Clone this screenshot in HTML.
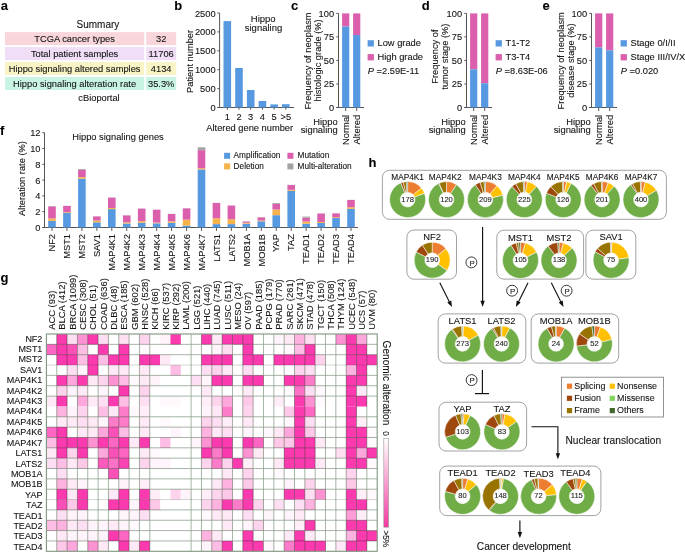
<!DOCTYPE html>
<html><head><meta charset="utf-8"><style>
html,body{margin:0;padding:0;background:#fff;}
svg{display:block;font-family:"Liberation Sans",sans-serif;}
text{stroke:#222;stroke-width:0.1px;}
</style></head><body>
<svg width="685" height="552" viewBox="0 0 685 552">
<rect width="685" height="552" fill="#fff"/>
<text x="0.70" y="9.50" font-size="13" font-weight="bold" fill="#000">a</text>
<text x="174.20" y="9.50" font-size="13" font-weight="bold" fill="#000">b</text>
<text x="290.90" y="9.50" font-size="13" font-weight="bold" fill="#000">c</text>
<text x="421.70" y="9.50" font-size="13" font-weight="bold" fill="#000">d</text>
<text x="542.50" y="9.50" font-size="13" font-weight="bold" fill="#000">e</text>
<text x="0.10" y="134.50" font-size="13" font-weight="bold" fill="#000">f</text>
<text x="0.60" y="281.80" font-size="13" font-weight="bold" fill="#000">g</text>
<text x="368.40" y="167.30" font-size="13" font-weight="bold" fill="#000">h</text>
<text x="97.90" y="28.40" font-size="10.0" text-anchor="middle" fill="#111">Summary</text>
<rect x="5.00" y="32.10" width="139.20" height="13.00" fill="#F8D6DC"/>
<rect x="146.20" y="32.10" width="30.00" height="13.00" fill="#F8D6DC"/>
<text x="74.60" y="41.90" font-size="9.3" text-anchor="middle" fill="#111">TCGA cancer types</text>
<text x="161.20" y="41.90" font-size="9.3" text-anchor="middle" fill="#111">32</text>
<rect x="5.00" y="47.10" width="139.20" height="13.00" fill="#F0DDF6"/>
<rect x="146.20" y="47.10" width="30.00" height="13.00" fill="#F0DDF6"/>
<text x="74.60" y="56.90" font-size="9.3" text-anchor="middle" fill="#111">Total patient samples</text>
<text x="161.20" y="56.90" font-size="9.3" text-anchor="middle" fill="#111">11706</text>
<rect x="5.00" y="62.00" width="139.20" height="13.00" fill="#F8F4C6"/>
<rect x="146.20" y="62.00" width="30.00" height="13.00" fill="#F8F4C6"/>
<text x="74.60" y="71.80" font-size="9.3" text-anchor="middle" fill="#111">Hippo signaling altered samples</text>
<text x="161.20" y="71.80" font-size="9.3" text-anchor="middle" fill="#111">4134</text>
<rect x="5.00" y="77.00" width="139.20" height="13.00" fill="#C9F4E4"/>
<rect x="146.20" y="77.00" width="30.00" height="13.00" fill="#C9F4E4"/>
<text x="74.60" y="86.80" font-size="9.3" text-anchor="middle" fill="#111">Hippo signaling alteration rate</text>
<text x="161.20" y="86.80" font-size="9.3" text-anchor="middle" fill="#111">35.3%</text>
<text x="99.00" y="100.60" font-size="9.3" text-anchor="middle" fill="#111">cBioportal</text>
<line x1="219.60" y1="13.00" x2="219.60" y2="108.00" stroke="#555" stroke-width="1"/>
<line x1="217.10" y1="107.50" x2="294.10" y2="107.50" stroke="#555" stroke-width="1"/>
<line x1="217.40" y1="107.50" x2="219.60" y2="107.50" stroke="#555" stroke-width="1"/>
<text x="215.60" y="111.00" font-size="9.3" text-anchor="end" fill="#111">0</text>
<line x1="217.40" y1="88.60" x2="219.60" y2="88.60" stroke="#555" stroke-width="1"/>
<text x="215.60" y="92.10" font-size="9.3" text-anchor="end" fill="#111">500</text>
<line x1="217.40" y1="69.70" x2="219.60" y2="69.70" stroke="#555" stroke-width="1"/>
<text x="215.60" y="73.20" font-size="9.3" text-anchor="end" fill="#111">1000</text>
<line x1="217.40" y1="50.80" x2="219.60" y2="50.80" stroke="#555" stroke-width="1"/>
<text x="215.60" y="54.30" font-size="9.3" text-anchor="end" fill="#111">1500</text>
<line x1="217.40" y1="31.90" x2="219.60" y2="31.90" stroke="#555" stroke-width="1"/>
<text x="215.60" y="35.40" font-size="9.3" text-anchor="end" fill="#111">2000</text>
<line x1="217.40" y1="13.00" x2="219.60" y2="13.00" stroke="#555" stroke-width="1"/>
<text x="215.60" y="16.50" font-size="9.3" text-anchor="end" fill="#111">2500</text>
<rect x="223.50" y="21.09" width="7.60" height="86.41" fill="#5799E1"/>
<line x1="227.30" y1="107.50" x2="227.30" y2="109.70" stroke="#555" stroke-width="1"/>
<text x="227.30" y="119.60" font-size="9.3" text-anchor="middle" fill="#111">1</text>
<rect x="235.20" y="68.00" width="7.60" height="39.50" fill="#5799E1"/>
<line x1="239.00" y1="107.50" x2="239.00" y2="109.70" stroke="#555" stroke-width="1"/>
<text x="239.00" y="119.60" font-size="9.3" text-anchor="middle" fill="#111">2</text>
<rect x="246.90" y="90.00" width="7.60" height="17.50" fill="#5799E1"/>
<line x1="250.70" y1="107.50" x2="250.70" y2="109.70" stroke="#555" stroke-width="1"/>
<text x="250.70" y="119.60" font-size="9.3" text-anchor="middle" fill="#111">3</text>
<rect x="258.60" y="101.00" width="7.60" height="6.50" fill="#5799E1"/>
<line x1="262.40" y1="107.50" x2="262.40" y2="109.70" stroke="#555" stroke-width="1"/>
<text x="262.40" y="119.60" font-size="9.3" text-anchor="middle" fill="#111">4</text>
<rect x="270.30" y="104.40" width="7.60" height="3.10" fill="#5799E1"/>
<line x1="274.10" y1="107.50" x2="274.10" y2="109.70" stroke="#555" stroke-width="1"/>
<text x="274.10" y="119.60" font-size="9.3" text-anchor="middle" fill="#111">5</text>
<rect x="282.00" y="104.21" width="7.60" height="3.29" fill="#5799E1"/>
<line x1="285.80" y1="107.50" x2="285.80" y2="109.70" stroke="#555" stroke-width="1"/>
<text x="285.80" y="119.60" font-size="9.3" text-anchor="middle" fill="#111">&gt;5</text>
<text x="249.70" y="130.50" font-size="9.3" text-anchor="middle" fill="#111">Altered gene number</text>
<text transform="translate(192.90,61.40) rotate(-90)" font-size="9.3" text-anchor="middle" fill="#111">Patient number</text>
<text x="263.20" y="21.80" font-size="9.5" text-anchor="middle" fill="#111">Hippo</text>
<text x="263.50" y="31.00" font-size="9.5" text-anchor="middle" fill="#111">signaling</text>
<line x1="338.50" y1="13.40" x2="338.50" y2="108.00" stroke="#555" stroke-width="1"/>
<line x1="336.20" y1="107.50" x2="364.00" y2="107.50" stroke="#555" stroke-width="1"/>
<line x1="336.30" y1="107.50" x2="338.50" y2="107.50" stroke="#555" stroke-width="1"/>
<text x="334.10" y="111.00" font-size="9.3" text-anchor="end" fill="#111">0</text>
<line x1="336.30" y1="83.97" x2="338.50" y2="83.97" stroke="#555" stroke-width="1"/>
<text x="334.10" y="87.47" font-size="9.3" text-anchor="end" fill="#111">25</text>
<line x1="336.30" y1="60.45" x2="338.50" y2="60.45" stroke="#555" stroke-width="1"/>
<text x="334.10" y="63.95" font-size="9.3" text-anchor="end" fill="#111">50</text>
<line x1="336.30" y1="36.92" x2="338.50" y2="36.92" stroke="#555" stroke-width="1"/>
<text x="334.10" y="40.42" font-size="9.3" text-anchor="end" fill="#111">75</text>
<line x1="336.30" y1="13.40" x2="338.50" y2="13.40" stroke="#555" stroke-width="1"/>
<text x="334.10" y="16.90" font-size="9.3" text-anchor="end" fill="#111">100</text>
<rect x="342.10" y="13.40" width="7.20" height="13.17" fill="#DB5FAC"/>
<rect x="342.10" y="26.57" width="7.20" height="80.93" fill="#5799E1"/>
<line x1="345.70" y1="107.50" x2="345.70" y2="111.00" stroke="#555" stroke-width="1"/>
<text transform="translate(348.70,114.80) rotate(-90)" font-size="9.4" text-anchor="end" fill="#111">Normal</text>
<rect x="353.10" y="13.40" width="7.20" height="21.64" fill="#DB5FAC"/>
<rect x="353.10" y="35.04" width="7.20" height="72.46" fill="#5799E1"/>
<line x1="356.70" y1="107.50" x2="356.70" y2="111.00" stroke="#555" stroke-width="1"/>
<text transform="translate(359.70,114.80) rotate(-90)" font-size="9.4" text-anchor="end" fill="#111">Altered</text>
<text x="337.70" y="124.50" font-size="9.4" text-anchor="end" fill="#111">Hippo</text>
<text x="337.70" y="133.30" font-size="9.4" text-anchor="end" fill="#111">signaling</text>
<text transform="translate(311.00,61.00) rotate(-90)" font-size="9.3" text-anchor="middle" fill="#111">Frequency of neoplasm</text>
<text transform="translate(320.70,60.40) rotate(-90)" font-size="9.3" text-anchor="middle" fill="#111">histologic grade (%)</text>
<rect x="367.60" y="40.20" width="6.30" height="6.30" fill="#5799E1"/>
<rect x="367.60" y="54.10" width="6.30" height="6.30" fill="#DB5FAC"/>
<text x="377.50" y="46.00" font-size="9.3" fill="#111">Low grade</text>
<text x="377.50" y="59.90" font-size="9.3" fill="#111">High grade</text>
<text x="367.80" y="74.4" font-size="9.3" fill="#111"><tspan font-style="italic">P</tspan> =2.59E-11</text>
<line x1="466.50" y1="13.40" x2="466.50" y2="108.00" stroke="#555" stroke-width="1"/>
<line x1="464.20" y1="107.50" x2="492.00" y2="107.50" stroke="#555" stroke-width="1"/>
<line x1="464.30" y1="107.50" x2="466.50" y2="107.50" stroke="#555" stroke-width="1"/>
<text x="462.10" y="111.00" font-size="9.3" text-anchor="end" fill="#111">0</text>
<line x1="464.30" y1="83.97" x2="466.50" y2="83.97" stroke="#555" stroke-width="1"/>
<text x="462.10" y="87.47" font-size="9.3" text-anchor="end" fill="#111">25</text>
<line x1="464.30" y1="60.45" x2="466.50" y2="60.45" stroke="#555" stroke-width="1"/>
<text x="462.10" y="63.95" font-size="9.3" text-anchor="end" fill="#111">50</text>
<line x1="464.30" y1="36.92" x2="466.50" y2="36.92" stroke="#555" stroke-width="1"/>
<text x="462.10" y="40.42" font-size="9.3" text-anchor="end" fill="#111">75</text>
<line x1="464.30" y1="13.40" x2="466.50" y2="13.40" stroke="#555" stroke-width="1"/>
<text x="462.10" y="16.90" font-size="9.3" text-anchor="end" fill="#111">100</text>
<rect x="470.10" y="13.40" width="7.20" height="55.90" fill="#DB5FAC"/>
<rect x="470.10" y="69.30" width="7.20" height="38.20" fill="#5799E1"/>
<line x1="473.70" y1="107.50" x2="473.70" y2="111.00" stroke="#555" stroke-width="1"/>
<text transform="translate(476.70,114.80) rotate(-90)" font-size="9.4" text-anchor="end" fill="#111">Normal</text>
<rect x="481.10" y="13.40" width="7.20" height="69.82" fill="#DB5FAC"/>
<rect x="481.10" y="83.22" width="7.20" height="24.28" fill="#5799E1"/>
<line x1="484.70" y1="107.50" x2="484.70" y2="111.00" stroke="#555" stroke-width="1"/>
<text transform="translate(487.70,114.80) rotate(-90)" font-size="9.4" text-anchor="end" fill="#111">Altered</text>
<text x="465.70" y="124.50" font-size="9.4" text-anchor="end" fill="#111">Hippo</text>
<text x="465.70" y="133.30" font-size="9.4" text-anchor="end" fill="#111">signaling</text>
<text transform="translate(437.90,56.60) rotate(-90)" font-size="9.3" text-anchor="middle" fill="#111">Frequency of</text>
<text transform="translate(447.60,56.60) rotate(-90)" font-size="9.3" text-anchor="middle" fill="#111">tumor stage (%)</text>
<rect x="495.60" y="40.20" width="6.30" height="6.30" fill="#5799E1"/>
<rect x="495.60" y="54.10" width="6.30" height="6.30" fill="#DB5FAC"/>
<text x="505.50" y="46.00" font-size="9.3" fill="#111">T1-T2</text>
<text x="505.50" y="59.90" font-size="9.3" fill="#111">T3-T4</text>
<text x="495.80" y="74.4" font-size="9.3" fill="#111"><tspan font-style="italic">P</tspan> =8.63E-06</text>
<line x1="591.50" y1="13.40" x2="591.50" y2="108.00" stroke="#555" stroke-width="1"/>
<line x1="589.20" y1="107.50" x2="617.00" y2="107.50" stroke="#555" stroke-width="1"/>
<line x1="589.30" y1="107.50" x2="591.50" y2="107.50" stroke="#555" stroke-width="1"/>
<text x="587.10" y="111.00" font-size="9.3" text-anchor="end" fill="#111">0</text>
<line x1="589.30" y1="83.97" x2="591.50" y2="83.97" stroke="#555" stroke-width="1"/>
<text x="587.10" y="87.47" font-size="9.3" text-anchor="end" fill="#111">25</text>
<line x1="589.30" y1="60.45" x2="591.50" y2="60.45" stroke="#555" stroke-width="1"/>
<text x="587.10" y="63.95" font-size="9.3" text-anchor="end" fill="#111">50</text>
<line x1="589.30" y1="36.92" x2="591.50" y2="36.92" stroke="#555" stroke-width="1"/>
<text x="587.10" y="40.42" font-size="9.3" text-anchor="end" fill="#111">75</text>
<line x1="589.30" y1="13.40" x2="591.50" y2="13.40" stroke="#555" stroke-width="1"/>
<text x="587.10" y="16.90" font-size="9.3" text-anchor="end" fill="#111">100</text>
<rect x="595.10" y="13.40" width="7.20" height="34.06" fill="#DB5FAC"/>
<rect x="595.10" y="47.46" width="7.20" height="60.04" fill="#5799E1"/>
<line x1="598.70" y1="107.50" x2="598.70" y2="111.00" stroke="#555" stroke-width="1"/>
<text transform="translate(601.70,114.80) rotate(-90)" font-size="9.4" text-anchor="end" fill="#111">Normal</text>
<rect x="606.10" y="13.40" width="7.20" height="36.89" fill="#DB5FAC"/>
<rect x="606.10" y="50.29" width="7.20" height="57.21" fill="#5799E1"/>
<line x1="609.70" y1="107.50" x2="609.70" y2="111.00" stroke="#555" stroke-width="1"/>
<text transform="translate(612.70,114.80) rotate(-90)" font-size="9.4" text-anchor="end" fill="#111">Altered</text>
<text x="590.70" y="124.50" font-size="9.4" text-anchor="end" fill="#111">Hippo</text>
<text x="590.70" y="133.30" font-size="9.4" text-anchor="end" fill="#111">signaling</text>
<text transform="translate(563.70,60.80) rotate(-90)" font-size="9.3" text-anchor="middle" fill="#111">Frequency of neoplasm</text>
<text transform="translate(573.50,60.50) rotate(-90)" font-size="9.3" text-anchor="middle" fill="#111">disease stage (%)</text>
<rect x="620.60" y="40.20" width="6.30" height="6.30" fill="#5799E1"/>
<rect x="620.60" y="54.10" width="6.30" height="6.30" fill="#DB5FAC"/>
<text x="630.50" y="46.00" font-size="9.3" fill="#111">Stage 0/I/II</text>
<text x="630.50" y="59.90" font-size="9.3" fill="#111">Stage III/IV/X</text>
<text x="620.80" y="74.4" font-size="9.3" fill="#111"><tspan font-style="italic">P</tspan> =0.020</text>
<line x1="44.50" y1="132.70" x2="44.50" y2="228.00" stroke="#555" stroke-width="1"/>
<line x1="42.50" y1="227.50" x2="358.00" y2="227.50" stroke="#555" stroke-width="1"/>
<line x1="42.30" y1="227.50" x2="44.50" y2="227.50" stroke="#555" stroke-width="1"/>
<text x="40.50" y="231.00" font-size="9.3" text-anchor="end" fill="#111">0</text>
<line x1="42.30" y1="211.70" x2="44.50" y2="211.70" stroke="#555" stroke-width="1"/>
<text x="40.50" y="215.20" font-size="9.3" text-anchor="end" fill="#111">2</text>
<line x1="42.30" y1="195.90" x2="44.50" y2="195.90" stroke="#555" stroke-width="1"/>
<text x="40.50" y="199.40" font-size="9.3" text-anchor="end" fill="#111">4</text>
<line x1="42.30" y1="180.10" x2="44.50" y2="180.10" stroke="#555" stroke-width="1"/>
<text x="40.50" y="183.60" font-size="9.3" text-anchor="end" fill="#111">6</text>
<line x1="42.30" y1="164.30" x2="44.50" y2="164.30" stroke="#555" stroke-width="1"/>
<text x="40.50" y="167.80" font-size="9.3" text-anchor="end" fill="#111">8</text>
<line x1="42.30" y1="148.50" x2="44.50" y2="148.50" stroke="#555" stroke-width="1"/>
<text x="40.50" y="152.00" font-size="9.3" text-anchor="end" fill="#111">10</text>
<line x1="42.30" y1="132.70" x2="44.50" y2="132.70" stroke="#555" stroke-width="1"/>
<text x="40.50" y="136.20" font-size="9.3" text-anchor="end" fill="#111">12</text>
<text transform="translate(25.20,178.60) rotate(-90)" font-size="9.3" text-anchor="middle" fill="#111">Alteration rate (%)</text>
<text x="118.00" y="140.20" font-size="9.3" text-anchor="middle" fill="#111">Hippo signaling genes</text>
<rect x="48.20" y="220.86" width="7.60" height="6.64" fill="#5799E1"/>
<rect x="48.20" y="218.41" width="7.60" height="2.45" fill="#F6B24B"/>
<rect x="48.20" y="206.41" width="7.60" height="12.01" fill="#DB5FAC"/>
<rect x="48.20" y="206.01" width="7.60" height="0.40" fill="#A3A3A3"/>
<line x1="52.00" y1="227.50" x2="52.00" y2="230.90" stroke="#555" stroke-width="1"/>
<text transform="translate(55.20,234.00) rotate(-90)" font-size="9.3" text-anchor="end" fill="#111">NF2</text>
<rect x="63.15" y="212.88" width="7.60" height="14.62" fill="#5799E1"/>
<rect x="63.15" y="212.17" width="7.60" height="0.71" fill="#F6B24B"/>
<rect x="63.15" y="205.93" width="7.60" height="6.24" fill="#DB5FAC"/>
<rect x="63.15" y="205.78" width="7.60" height="0.16" fill="#A3A3A3"/>
<line x1="66.95" y1="227.50" x2="66.95" y2="230.90" stroke="#555" stroke-width="1"/>
<text transform="translate(70.15,234.00) rotate(-90)" font-size="9.3" text-anchor="end" fill="#111">MST1</text>
<rect x="78.10" y="178.68" width="7.60" height="48.82" fill="#5799E1"/>
<rect x="78.10" y="177.10" width="7.60" height="1.58" fill="#F6B24B"/>
<rect x="78.10" y="169.83" width="7.60" height="7.27" fill="#DB5FAC"/>
<rect x="78.10" y="169.04" width="7.60" height="0.79" fill="#A3A3A3"/>
<line x1="81.90" y1="227.50" x2="81.90" y2="230.90" stroke="#555" stroke-width="1"/>
<text transform="translate(85.10,234.00) rotate(-90)" font-size="9.3" text-anchor="end" fill="#111">MST2</text>
<rect x="93.05" y="222.29" width="7.60" height="5.21" fill="#5799E1"/>
<rect x="93.05" y="220.47" width="7.60" height="1.82" fill="#F6B24B"/>
<rect x="93.05" y="216.44" width="7.60" height="4.03" fill="#DB5FAC"/>
<rect x="93.05" y="216.28" width="7.60" height="0.16" fill="#A3A3A3"/>
<line x1="96.85" y1="227.50" x2="96.85" y2="230.90" stroke="#555" stroke-width="1"/>
<text transform="translate(100.05,234.00) rotate(-90)" font-size="9.3" text-anchor="end" fill="#111">SAV1</text>
<rect x="108.00" y="209.09" width="7.60" height="18.41" fill="#5799E1"/>
<rect x="108.00" y="207.99" width="7.60" height="1.11" fill="#F6B24B"/>
<rect x="108.00" y="197.64" width="7.60" height="10.35" fill="#DB5FAC"/>
<rect x="108.00" y="197.48" width="7.60" height="0.16" fill="#A3A3A3"/>
<line x1="111.80" y1="227.50" x2="111.80" y2="230.90" stroke="#555" stroke-width="1"/>
<text transform="translate(115.00,234.00) rotate(-90)" font-size="9.3" text-anchor="end" fill="#111">MAP4K1</text>
<rect x="122.95" y="223.47" width="7.60" height="4.03" fill="#5799E1"/>
<rect x="122.95" y="222.29" width="7.60" height="1.19" fill="#F6B24B"/>
<rect x="122.95" y="215.41" width="7.60" height="6.87" fill="#DB5FAC"/>
<rect x="122.95" y="215.25" width="7.60" height="0.16" fill="#A3A3A3"/>
<line x1="126.75" y1="227.50" x2="126.75" y2="230.90" stroke="#555" stroke-width="1"/>
<text transform="translate(129.95,234.00) rotate(-90)" font-size="9.3" text-anchor="end" fill="#111">MAP4K2</text>
<rect x="137.90" y="222.76" width="7.60" height="4.74" fill="#5799E1"/>
<rect x="137.90" y="221.18" width="7.60" height="1.58" fill="#F6B24B"/>
<rect x="137.90" y="208.62" width="7.60" height="12.56" fill="#DB5FAC"/>
<rect x="137.90" y="208.46" width="7.60" height="0.16" fill="#A3A3A3"/>
<line x1="141.70" y1="227.50" x2="141.70" y2="230.90" stroke="#555" stroke-width="1"/>
<text transform="translate(144.90,234.00) rotate(-90)" font-size="9.3" text-anchor="end" fill="#111">MAP4K3</text>
<rect x="152.85" y="223.31" width="7.60" height="4.19" fill="#5799E1"/>
<rect x="152.85" y="222.60" width="7.60" height="0.71" fill="#F6B24B"/>
<rect x="152.85" y="209.72" width="7.60" height="12.88" fill="#DB5FAC"/>
<rect x="152.85" y="209.57" width="7.60" height="0.16" fill="#A3A3A3"/>
<line x1="156.65" y1="227.50" x2="156.65" y2="230.90" stroke="#555" stroke-width="1"/>
<text transform="translate(159.85,234.00) rotate(-90)" font-size="9.3" text-anchor="end" fill="#111">MAP4K4</text>
<rect x="167.80" y="222.76" width="7.60" height="4.74" fill="#5799E1"/>
<rect x="167.80" y="221.34" width="7.60" height="1.42" fill="#F6B24B"/>
<rect x="167.80" y="213.99" width="7.60" height="7.35" fill="#DB5FAC"/>
<rect x="167.80" y="213.83" width="7.60" height="0.16" fill="#A3A3A3"/>
<line x1="171.60" y1="227.50" x2="171.60" y2="230.90" stroke="#555" stroke-width="1"/>
<text transform="translate(174.80,234.00) rotate(-90)" font-size="9.3" text-anchor="end" fill="#111">MAP4K5</text>
<rect x="182.75" y="225.60" width="7.60" height="1.90" fill="#5799E1"/>
<rect x="182.75" y="219.60" width="7.60" height="6.00" fill="#F6B24B"/>
<rect x="182.75" y="208.38" width="7.60" height="11.22" fill="#DB5FAC"/>
<rect x="182.75" y="208.22" width="7.60" height="0.16" fill="#A3A3A3"/>
<line x1="186.55" y1="227.50" x2="186.55" y2="230.90" stroke="#555" stroke-width="1"/>
<text transform="translate(189.75,234.00) rotate(-90)" font-size="9.3" text-anchor="end" fill="#111">MAP4K6</text>
<rect x="197.70" y="169.44" width="7.60" height="58.07" fill="#5799E1"/>
<rect x="197.70" y="168.25" width="7.60" height="1.19" fill="#F6B24B"/>
<rect x="197.70" y="150.16" width="7.60" height="18.09" fill="#DB5FAC"/>
<rect x="197.70" y="147.31" width="7.60" height="2.84" fill="#A3A3A3"/>
<line x1="201.50" y1="227.50" x2="201.50" y2="230.90" stroke="#555" stroke-width="1"/>
<text transform="translate(204.70,234.00) rotate(-90)" font-size="9.3" text-anchor="end" fill="#111">MAP4K7</text>
<rect x="212.65" y="224.10" width="7.60" height="3.40" fill="#5799E1"/>
<rect x="212.65" y="218.26" width="7.60" height="5.85" fill="#F6B24B"/>
<rect x="212.65" y="203.01" width="7.60" height="15.25" fill="#DB5FAC"/>
<rect x="212.65" y="202.85" width="7.60" height="0.16" fill="#A3A3A3"/>
<line x1="216.45" y1="227.50" x2="216.45" y2="230.90" stroke="#555" stroke-width="1"/>
<text transform="translate(219.65,234.00) rotate(-90)" font-size="9.3" text-anchor="end" fill="#111">LATS1</text>
<rect x="227.60" y="224.10" width="7.60" height="3.40" fill="#5799E1"/>
<rect x="227.60" y="219.20" width="7.60" height="4.90" fill="#F6B24B"/>
<rect x="227.60" y="205.62" width="7.60" height="13.59" fill="#DB5FAC"/>
<rect x="227.60" y="205.46" width="7.60" height="0.16" fill="#A3A3A3"/>
<line x1="231.40" y1="227.50" x2="231.40" y2="230.90" stroke="#555" stroke-width="1"/>
<text transform="translate(234.60,234.00) rotate(-90)" font-size="9.3" text-anchor="end" fill="#111">LATS2</text>
<rect x="242.55" y="223.71" width="7.60" height="3.79" fill="#5799E1"/>
<rect x="242.55" y="222.76" width="7.60" height="0.95" fill="#F6B24B"/>
<rect x="242.55" y="221.50" width="7.60" height="1.26" fill="#DB5FAC"/>
<rect x="242.55" y="221.34" width="7.60" height="0.16" fill="#A3A3A3"/>
<line x1="246.35" y1="227.50" x2="246.35" y2="230.90" stroke="#555" stroke-width="1"/>
<text transform="translate(249.55,234.00) rotate(-90)" font-size="9.3" text-anchor="end" fill="#111">MOB1A</text>
<rect x="257.50" y="221.26" width="7.60" height="6.24" fill="#5799E1"/>
<rect x="257.50" y="220.39" width="7.60" height="0.87" fill="#F6B24B"/>
<rect x="257.50" y="217.39" width="7.60" height="3.00" fill="#DB5FAC"/>
<rect x="257.50" y="217.23" width="7.60" height="0.16" fill="#A3A3A3"/>
<line x1="261.30" y1="227.50" x2="261.30" y2="230.90" stroke="#555" stroke-width="1"/>
<text transform="translate(264.50,234.00) rotate(-90)" font-size="9.3" text-anchor="end" fill="#111">MOB1B</text>
<rect x="272.45" y="215.18" width="7.60" height="12.32" fill="#5799E1"/>
<rect x="272.45" y="209.49" width="7.60" height="5.69" fill="#F6B24B"/>
<rect x="272.45" y="203.88" width="7.60" height="5.61" fill="#DB5FAC"/>
<rect x="272.45" y="203.01" width="7.60" height="0.87" fill="#A3A3A3"/>
<line x1="276.25" y1="227.50" x2="276.25" y2="230.90" stroke="#555" stroke-width="1"/>
<text transform="translate(279.45,234.00) rotate(-90)" font-size="9.3" text-anchor="end" fill="#111">YAP</text>
<rect x="287.40" y="190.84" width="7.60" height="36.66" fill="#5799E1"/>
<rect x="287.40" y="189.82" width="7.60" height="1.03" fill="#F6B24B"/>
<rect x="287.40" y="185.08" width="7.60" height="4.74" fill="#DB5FAC"/>
<rect x="287.40" y="184.84" width="7.60" height="0.24" fill="#A3A3A3"/>
<line x1="291.20" y1="227.50" x2="291.20" y2="230.90" stroke="#555" stroke-width="1"/>
<text transform="translate(294.40,234.00) rotate(-90)" font-size="9.3" text-anchor="end" fill="#111">TAZ</text>
<rect x="302.35" y="223.71" width="7.60" height="3.79" fill="#5799E1"/>
<rect x="302.35" y="221.50" width="7.60" height="2.21" fill="#F6B24B"/>
<rect x="302.35" y="217.78" width="7.60" height="3.71" fill="#DB5FAC"/>
<rect x="302.35" y="216.60" width="7.60" height="1.18" fill="#A3A3A3"/>
<line x1="306.15" y1="227.50" x2="306.15" y2="230.90" stroke="#555" stroke-width="1"/>
<text transform="translate(309.35,234.00) rotate(-90)" font-size="9.3" text-anchor="end" fill="#111">TEAD1</text>
<rect x="317.30" y="223.00" width="7.60" height="4.50" fill="#5799E1"/>
<rect x="317.30" y="221.97" width="7.60" height="1.03" fill="#F6B24B"/>
<rect x="317.30" y="213.52" width="7.60" height="8.45" fill="#DB5FAC"/>
<rect x="317.30" y="213.36" width="7.60" height="0.16" fill="#A3A3A3"/>
<line x1="321.10" y1="227.50" x2="321.10" y2="230.90" stroke="#555" stroke-width="1"/>
<text transform="translate(324.30,234.00) rotate(-90)" font-size="9.3" text-anchor="end" fill="#111">TEAD2</text>
<rect x="332.25" y="218.02" width="7.60" height="9.48" fill="#5799E1"/>
<rect x="332.25" y="217.23" width="7.60" height="0.79" fill="#F6B24B"/>
<rect x="332.25" y="213.36" width="7.60" height="3.87" fill="#DB5FAC"/>
<rect x="332.25" y="213.20" width="7.60" height="0.16" fill="#A3A3A3"/>
<line x1="336.05" y1="227.50" x2="336.05" y2="230.90" stroke="#555" stroke-width="1"/>
<text transform="translate(339.25,234.00) rotate(-90)" font-size="9.3" text-anchor="end" fill="#111">TEAD3</text>
<rect x="347.20" y="208.86" width="7.60" height="18.64" fill="#5799E1"/>
<rect x="347.20" y="207.20" width="7.60" height="1.66" fill="#F6B24B"/>
<rect x="347.20" y="200.01" width="7.60" height="7.19" fill="#DB5FAC"/>
<rect x="347.20" y="199.85" width="7.60" height="0.16" fill="#A3A3A3"/>
<line x1="351.00" y1="227.50" x2="351.00" y2="230.90" stroke="#555" stroke-width="1"/>
<text transform="translate(354.20,234.00) rotate(-90)" font-size="9.3" text-anchor="end" fill="#111">TEAD4</text>
<rect x="224.10" y="152.80" width="6.00" height="6.00" fill="#5799E1"/>
<rect x="224.10" y="163.40" width="6.00" height="6.00" fill="#F6B24B"/>
<rect x="287.40" y="152.80" width="6.00" height="6.00" fill="#DB5FAC"/>
<rect x="287.40" y="163.40" width="6.00" height="6.00" fill="#A3A3A3"/>
<text x="233.60" y="158.40" font-size="8.25" fill="#111">Amplification</text>
<text x="233.60" y="169.10" font-size="8.25" fill="#111">Deletion</text>
<text x="297.60" y="158.40" font-size="8.25" fill="#111">Mutation</text>
<text x="297.60" y="169.10" font-size="8.25" fill="#111">Multi-alteration</text>
<rect x="56.74" y="334.00" width="10.39" height="10.40" fill="#FC3AB0"/>
<rect x="67.08" y="334.00" width="10.39" height="10.40" fill="#FEDEF2"/>
<rect x="77.41" y="334.00" width="10.39" height="10.40" fill="#FD92D3"/>
<rect x="87.75" y="334.00" width="10.39" height="10.40" fill="#FC3AB0"/>
<rect x="98.09" y="334.00" width="10.39" height="10.40" fill="#FEDEF2"/>
<rect x="118.76" y="334.00" width="10.39" height="10.40" fill="#FEDEF2"/>
<rect x="139.44" y="334.00" width="10.39" height="10.40" fill="#FED3ED"/>
<rect x="160.11" y="334.00" width="10.39" height="10.40" fill="#FFF4FB"/>
<rect x="170.45" y="334.00" width="10.39" height="10.40" fill="#FC3AB0"/>
<rect x="201.46" y="334.00" width="10.39" height="10.40" fill="#FC3AB0"/>
<rect x="211.80" y="334.00" width="10.39" height="10.40" fill="#FFE9F6"/>
<rect x="222.14" y="334.00" width="10.39" height="10.40" fill="#FC3AB0"/>
<rect x="232.48" y="334.00" width="10.39" height="10.40" fill="#FC3AB0"/>
<rect x="242.81" y="334.00" width="10.39" height="10.40" fill="#FC3AB0"/>
<rect x="273.82" y="334.00" width="10.39" height="10.40" fill="#FFF4FB"/>
<rect x="284.16" y="334.00" width="10.39" height="10.40" fill="#FFE9F6"/>
<rect x="294.50" y="334.00" width="10.39" height="10.40" fill="#FEB2E0"/>
<rect x="304.84" y="334.00" width="10.39" height="10.40" fill="#FEDEF2"/>
<rect x="335.85" y="334.00" width="10.39" height="10.40" fill="#FD92D3"/>
<rect x="346.19" y="334.00" width="10.39" height="10.40" fill="#FC3AB0"/>
<rect x="356.52" y="334.00" width="10.39" height="10.40" fill="#FEA7DC"/>
<rect x="46.40" y="344.35" width="10.39" height="10.40" fill="#FD66C2"/>
<rect x="56.74" y="344.35" width="10.39" height="10.40" fill="#FC3AB0"/>
<rect x="67.08" y="344.35" width="10.39" height="10.40" fill="#FC50B9"/>
<rect x="77.41" y="344.35" width="10.39" height="10.40" fill="#FEBDE5"/>
<rect x="98.09" y="344.35" width="10.39" height="10.40" fill="#FC3AB0"/>
<rect x="118.76" y="344.35" width="10.39" height="10.40" fill="#FC3AB0"/>
<rect x="139.44" y="344.35" width="10.39" height="10.40" fill="#FFF8FC"/>
<rect x="211.80" y="344.35" width="10.39" height="10.40" fill="#FFF4FB"/>
<rect x="222.14" y="344.35" width="10.39" height="10.40" fill="#FEDEF2"/>
<rect x="242.81" y="344.35" width="10.39" height="10.40" fill="#FC3AB0"/>
<rect x="284.16" y="344.35" width="10.39" height="10.40" fill="#FFF8FC"/>
<rect x="294.50" y="344.35" width="10.39" height="10.40" fill="#FEBDE5"/>
<rect x="304.84" y="344.35" width="10.39" height="10.40" fill="#FC3AB0"/>
<rect x="346.19" y="344.35" width="10.39" height="10.40" fill="#FC3AB0"/>
<rect x="356.52" y="344.35" width="10.39" height="10.40" fill="#FC3AB0"/>
<rect x="56.74" y="354.70" width="10.39" height="10.40" fill="#FC3AB0"/>
<rect x="67.08" y="354.70" width="10.39" height="10.40" fill="#FC3AB0"/>
<rect x="77.41" y="354.70" width="10.39" height="10.40" fill="#FEBDE5"/>
<rect x="87.75" y="354.70" width="10.39" height="10.40" fill="#FC3AB0"/>
<rect x="98.09" y="354.70" width="10.39" height="10.40" fill="#FEBDE5"/>
<rect x="108.43" y="354.70" width="10.39" height="10.40" fill="#FC3AB0"/>
<rect x="118.76" y="354.70" width="10.39" height="10.40" fill="#FC3AB0"/>
<rect x="139.44" y="354.70" width="10.39" height="10.40" fill="#FC3AB0"/>
<rect x="149.78" y="354.70" width="10.39" height="10.40" fill="#FC3AB0"/>
<rect x="160.11" y="354.70" width="10.39" height="10.40" fill="#FFE9F6"/>
<rect x="201.46" y="354.70" width="10.39" height="10.40" fill="#FC3AB0"/>
<rect x="211.80" y="354.70" width="10.39" height="10.40" fill="#FC3AB0"/>
<rect x="222.14" y="354.70" width="10.39" height="10.40" fill="#FC3AB0"/>
<rect x="242.81" y="354.70" width="10.39" height="10.40" fill="#FC3AB0"/>
<rect x="253.15" y="354.70" width="10.39" height="10.40" fill="#FC3AB0"/>
<rect x="273.82" y="354.70" width="10.39" height="10.40" fill="#FC3AB0"/>
<rect x="284.16" y="354.70" width="10.39" height="10.40" fill="#FC3AB0"/>
<rect x="294.50" y="354.70" width="10.39" height="10.40" fill="#FC3AB0"/>
<rect x="304.84" y="354.70" width="10.39" height="10.40" fill="#FC3AB0"/>
<rect x="315.18" y="354.70" width="10.39" height="10.40" fill="#FED3ED"/>
<rect x="346.19" y="354.70" width="10.39" height="10.40" fill="#FC3AB0"/>
<rect x="356.52" y="354.70" width="10.39" height="10.40" fill="#FC3AB0"/>
<rect x="366.86" y="354.70" width="10.39" height="10.40" fill="#FC3AB0"/>
<rect x="67.08" y="365.04" width="10.39" height="10.40" fill="#FEDEF2"/>
<rect x="77.41" y="365.04" width="10.39" height="10.40" fill="#FFF4FB"/>
<rect x="87.75" y="365.04" width="10.39" height="10.40" fill="#FC3AB0"/>
<rect x="108.43" y="365.04" width="10.39" height="10.40" fill="#FFE9F6"/>
<rect x="118.76" y="365.04" width="10.39" height="10.40" fill="#FFE9F6"/>
<rect x="139.44" y="365.04" width="10.39" height="10.40" fill="#FFE9F6"/>
<rect x="170.45" y="365.04" width="10.39" height="10.40" fill="#FEBDE5"/>
<rect x="201.46" y="365.04" width="10.39" height="10.40" fill="#FEDEF2"/>
<rect x="211.80" y="365.04" width="10.39" height="10.40" fill="#FED3ED"/>
<rect x="222.14" y="365.04" width="10.39" height="10.40" fill="#FFE9F6"/>
<rect x="242.81" y="365.04" width="10.39" height="10.40" fill="#FEDEF2"/>
<rect x="294.50" y="365.04" width="10.39" height="10.40" fill="#FED3ED"/>
<rect x="304.84" y="365.04" width="10.39" height="10.40" fill="#FEDEF2"/>
<rect x="346.19" y="365.04" width="10.39" height="10.40" fill="#FEB2E0"/>
<rect x="356.52" y="365.04" width="10.39" height="10.40" fill="#FC3AB0"/>
<rect x="56.74" y="375.39" width="10.39" height="10.40" fill="#FC3AB0"/>
<rect x="67.08" y="375.39" width="10.39" height="10.40" fill="#FEA7DC"/>
<rect x="77.41" y="375.39" width="10.39" height="10.40" fill="#FC3AB0"/>
<rect x="87.75" y="375.39" width="10.39" height="10.40" fill="#FFE9F6"/>
<rect x="98.09" y="375.39" width="10.39" height="10.40" fill="#FED3ED"/>
<rect x="108.43" y="375.39" width="10.39" height="10.40" fill="#FD92D3"/>
<rect x="118.76" y="375.39" width="10.39" height="10.40" fill="#FEBDE5"/>
<rect x="129.10" y="375.39" width="10.39" height="10.40" fill="#FFF8FC"/>
<rect x="139.44" y="375.39" width="10.39" height="10.40" fill="#FFE9F6"/>
<rect x="149.78" y="375.39" width="10.39" height="10.40" fill="#FFF4FB"/>
<rect x="191.12" y="375.39" width="10.39" height="10.40" fill="#FEDEF2"/>
<rect x="201.46" y="375.39" width="10.39" height="10.40" fill="#FFF4FB"/>
<rect x="211.80" y="375.39" width="10.39" height="10.40" fill="#FC3AB0"/>
<rect x="222.14" y="375.39" width="10.39" height="10.40" fill="#FC3AB0"/>
<rect x="242.81" y="375.39" width="10.39" height="10.40" fill="#FC3AB0"/>
<rect x="253.15" y="375.39" width="10.39" height="10.40" fill="#FC3AB0"/>
<rect x="284.16" y="375.39" width="10.39" height="10.40" fill="#FC3AB0"/>
<rect x="294.50" y="375.39" width="10.39" height="10.40" fill="#FC3AB0"/>
<rect x="304.84" y="375.39" width="10.39" height="10.40" fill="#FD7CCA"/>
<rect x="346.19" y="375.39" width="10.39" height="10.40" fill="#FC3AB0"/>
<rect x="356.52" y="375.39" width="10.39" height="10.40" fill="#FC3AB0"/>
<rect x="56.74" y="385.74" width="10.39" height="10.40" fill="#FED3ED"/>
<rect x="67.08" y="385.74" width="10.39" height="10.40" fill="#FFF4FB"/>
<rect x="77.41" y="385.74" width="10.39" height="10.40" fill="#FFE9F6"/>
<rect x="98.09" y="385.74" width="10.39" height="10.40" fill="#FFF4FB"/>
<rect x="118.76" y="385.74" width="10.39" height="10.40" fill="#FC3AB0"/>
<rect x="139.44" y="385.74" width="10.39" height="10.40" fill="#FED3ED"/>
<rect x="201.46" y="385.74" width="10.39" height="10.40" fill="#FFE9F6"/>
<rect x="242.81" y="385.74" width="10.39" height="10.40" fill="#FFE9F6"/>
<rect x="284.16" y="385.74" width="10.39" height="10.40" fill="#FFFBFD"/>
<rect x="294.50" y="385.74" width="10.39" height="10.40" fill="#FD71C6"/>
<rect x="304.84" y="385.74" width="10.39" height="10.40" fill="#FEDEF2"/>
<rect x="315.18" y="385.74" width="10.39" height="10.40" fill="#FFF8FC"/>
<rect x="346.19" y="385.74" width="10.39" height="10.40" fill="#FC3AB0"/>
<rect x="356.52" y="385.74" width="10.39" height="10.40" fill="#FFE9F6"/>
<rect x="46.40" y="396.09" width="10.39" height="10.40" fill="#FFE9F6"/>
<rect x="56.74" y="396.09" width="10.39" height="10.40" fill="#FC3AB0"/>
<rect x="77.41" y="396.09" width="10.39" height="10.40" fill="#FEA7DC"/>
<rect x="87.75" y="396.09" width="10.39" height="10.40" fill="#FFE9F6"/>
<rect x="98.09" y="396.09" width="10.39" height="10.40" fill="#FEDEF2"/>
<rect x="108.43" y="396.09" width="10.39" height="10.40" fill="#FC3AB0"/>
<rect x="118.76" y="396.09" width="10.39" height="10.40" fill="#FEBDE5"/>
<rect x="139.44" y="396.09" width="10.39" height="10.40" fill="#FEDEF2"/>
<rect x="160.11" y="396.09" width="10.39" height="10.40" fill="#FFF8FC"/>
<rect x="170.45" y="396.09" width="10.39" height="10.40" fill="#FFF8FC"/>
<rect x="201.46" y="396.09" width="10.39" height="10.40" fill="#FFEDF8"/>
<rect x="211.80" y="396.09" width="10.39" height="10.40" fill="#FED3ED"/>
<rect x="222.14" y="396.09" width="10.39" height="10.40" fill="#FEA7DC"/>
<rect x="242.81" y="396.09" width="10.39" height="10.40" fill="#FEC8E9"/>
<rect x="273.82" y="396.09" width="10.39" height="10.40" fill="#FFEDF8"/>
<rect x="294.50" y="396.09" width="10.39" height="10.40" fill="#FC3AB0"/>
<rect x="304.84" y="396.09" width="10.39" height="10.40" fill="#FD92D3"/>
<rect x="315.18" y="396.09" width="10.39" height="10.40" fill="#FFF8FC"/>
<rect x="346.19" y="396.09" width="10.39" height="10.40" fill="#FC3AB0"/>
<rect x="356.52" y="396.09" width="10.39" height="10.40" fill="#FC3AB0"/>
<rect x="56.74" y="406.43" width="10.39" height="10.40" fill="#FEB2E0"/>
<rect x="67.08" y="406.43" width="10.39" height="10.40" fill="#FFF4FB"/>
<rect x="77.41" y="406.43" width="10.39" height="10.40" fill="#FED3ED"/>
<rect x="98.09" y="406.43" width="10.39" height="10.40" fill="#FEBDE5"/>
<rect x="108.43" y="406.43" width="10.39" height="10.40" fill="#FFE9F6"/>
<rect x="118.76" y="406.43" width="10.39" height="10.40" fill="#FD7CCA"/>
<rect x="129.10" y="406.43" width="10.39" height="10.40" fill="#FFF8FC"/>
<rect x="139.44" y="406.43" width="10.39" height="10.40" fill="#FFEDF8"/>
<rect x="201.46" y="406.43" width="10.39" height="10.40" fill="#FFF4FB"/>
<rect x="211.80" y="406.43" width="10.39" height="10.40" fill="#FFE9F6"/>
<rect x="222.14" y="406.43" width="10.39" height="10.40" fill="#FD7CCA"/>
<rect x="242.81" y="406.43" width="10.39" height="10.40" fill="#FED3ED"/>
<rect x="284.16" y="406.43" width="10.39" height="10.40" fill="#FEC8E9"/>
<rect x="294.50" y="406.43" width="10.39" height="10.40" fill="#FC3AB0"/>
<rect x="304.84" y="406.43" width="10.39" height="10.40" fill="#FD66C2"/>
<rect x="346.19" y="406.43" width="10.39" height="10.40" fill="#FC3AB0"/>
<rect x="56.74" y="416.78" width="10.39" height="10.40" fill="#FFE9F6"/>
<rect x="67.08" y="416.78" width="10.39" height="10.40" fill="#FFE9F6"/>
<rect x="77.41" y="416.78" width="10.39" height="10.40" fill="#FEDEF2"/>
<rect x="87.75" y="416.78" width="10.39" height="10.40" fill="#FFE9F6"/>
<rect x="98.09" y="416.78" width="10.39" height="10.40" fill="#FFF4FB"/>
<rect x="108.43" y="416.78" width="10.39" height="10.40" fill="#FD7CCA"/>
<rect x="118.76" y="416.78" width="10.39" height="10.40" fill="#FD7CCA"/>
<rect x="139.44" y="416.78" width="10.39" height="10.40" fill="#FFE9F6"/>
<rect x="160.11" y="416.78" width="10.39" height="10.40" fill="#FFF8FC"/>
<rect x="201.46" y="416.78" width="10.39" height="10.40" fill="#FED3ED"/>
<rect x="211.80" y="416.78" width="10.39" height="10.40" fill="#FEDEF2"/>
<rect x="222.14" y="416.78" width="10.39" height="10.40" fill="#FFEDF8"/>
<rect x="242.81" y="416.78" width="10.39" height="10.40" fill="#FFE9F6"/>
<rect x="284.16" y="416.78" width="10.39" height="10.40" fill="#FFF8FC"/>
<rect x="294.50" y="416.78" width="10.39" height="10.40" fill="#FC3AB0"/>
<rect x="304.84" y="416.78" width="10.39" height="10.40" fill="#FEDEF2"/>
<rect x="346.19" y="416.78" width="10.39" height="10.40" fill="#FC3AB0"/>
<rect x="356.52" y="416.78" width="10.39" height="10.40" fill="#FFEDF8"/>
<rect x="46.40" y="427.13" width="10.39" height="10.40" fill="#FD66C2"/>
<rect x="56.74" y="427.13" width="10.39" height="10.40" fill="#FC3AB0"/>
<rect x="77.41" y="427.13" width="10.39" height="10.40" fill="#FFE9F6"/>
<rect x="87.75" y="427.13" width="10.39" height="10.40" fill="#FFE9F6"/>
<rect x="98.09" y="427.13" width="10.39" height="10.40" fill="#FEA7DC"/>
<rect x="108.43" y="427.13" width="10.39" height="10.40" fill="#FC50B9"/>
<rect x="118.76" y="427.13" width="10.39" height="10.40" fill="#FEBDE5"/>
<rect x="139.44" y="427.13" width="10.39" height="10.40" fill="#FFE9F6"/>
<rect x="170.45" y="427.13" width="10.39" height="10.40" fill="#FFF4FB"/>
<rect x="201.46" y="427.13" width="10.39" height="10.40" fill="#FEB2E0"/>
<rect x="211.80" y="427.13" width="10.39" height="10.40" fill="#FFE9F6"/>
<rect x="222.14" y="427.13" width="10.39" height="10.40" fill="#FEDEF2"/>
<rect x="242.81" y="427.13" width="10.39" height="10.40" fill="#FFF4FB"/>
<rect x="263.49" y="427.13" width="10.39" height="10.40" fill="#FFF8FC"/>
<rect x="273.82" y="427.13" width="10.39" height="10.40" fill="#FFE9F6"/>
<rect x="284.16" y="427.13" width="10.39" height="10.40" fill="#FEA7DC"/>
<rect x="294.50" y="427.13" width="10.39" height="10.40" fill="#FC3AB0"/>
<rect x="304.84" y="427.13" width="10.39" height="10.40" fill="#FEC8E9"/>
<rect x="346.19" y="427.13" width="10.39" height="10.40" fill="#FC3AB0"/>
<rect x="356.52" y="427.13" width="10.39" height="10.40" fill="#FC3AB0"/>
<rect x="366.86" y="427.13" width="10.39" height="10.40" fill="#FFFBFD"/>
<rect x="46.40" y="437.48" width="10.39" height="10.40" fill="#FEBDE5"/>
<rect x="56.74" y="437.48" width="10.39" height="10.40" fill="#FC3AB0"/>
<rect x="67.08" y="437.48" width="10.39" height="10.40" fill="#FC3AB0"/>
<rect x="77.41" y="437.48" width="10.39" height="10.40" fill="#FC3AB0"/>
<rect x="87.75" y="437.48" width="10.39" height="10.40" fill="#FD92D3"/>
<rect x="98.09" y="437.48" width="10.39" height="10.40" fill="#FC3AB0"/>
<rect x="108.43" y="437.48" width="10.39" height="10.40" fill="#FD66C2"/>
<rect x="118.76" y="437.48" width="10.39" height="10.40" fill="#FC3AB0"/>
<rect x="129.10" y="437.48" width="10.39" height="10.40" fill="#FFE9F6"/>
<rect x="139.44" y="437.48" width="10.39" height="10.40" fill="#FC3AB0"/>
<rect x="160.11" y="437.48" width="10.39" height="10.40" fill="#FEBDE5"/>
<rect x="191.12" y="437.48" width="10.39" height="10.40" fill="#FFF4FB"/>
<rect x="201.46" y="437.48" width="10.39" height="10.40" fill="#FD92D3"/>
<rect x="211.80" y="437.48" width="10.39" height="10.40" fill="#FC3AB0"/>
<rect x="222.14" y="437.48" width="10.39" height="10.40" fill="#FC3AB0"/>
<rect x="242.81" y="437.48" width="10.39" height="10.40" fill="#FC3AB0"/>
<rect x="253.15" y="437.48" width="10.39" height="10.40" fill="#FD66C2"/>
<rect x="273.82" y="437.48" width="10.39" height="10.40" fill="#FEC8E9"/>
<rect x="284.16" y="437.48" width="10.39" height="10.40" fill="#FEC8E9"/>
<rect x="294.50" y="437.48" width="10.39" height="10.40" fill="#FC3AB0"/>
<rect x="304.84" y="437.48" width="10.39" height="10.40" fill="#FC3AB0"/>
<rect x="315.18" y="437.48" width="10.39" height="10.40" fill="#FFE9F6"/>
<rect x="346.19" y="437.48" width="10.39" height="10.40" fill="#FC3AB0"/>
<rect x="356.52" y="437.48" width="10.39" height="10.40" fill="#FC3AB0"/>
<rect x="366.86" y="437.48" width="10.39" height="10.40" fill="#FFFBFD"/>
<rect x="46.40" y="447.82" width="10.39" height="10.40" fill="#FFE9F6"/>
<rect x="56.74" y="447.82" width="10.39" height="10.40" fill="#FC3AB0"/>
<rect x="67.08" y="447.82" width="10.39" height="10.40" fill="#FED3ED"/>
<rect x="77.41" y="447.82" width="10.39" height="10.40" fill="#FC3AB0"/>
<rect x="98.09" y="447.82" width="10.39" height="10.40" fill="#FEA7DC"/>
<rect x="108.43" y="447.82" width="10.39" height="10.40" fill="#FC50B9"/>
<rect x="118.76" y="447.82" width="10.39" height="10.40" fill="#FD66C2"/>
<rect x="139.44" y="447.82" width="10.39" height="10.40" fill="#FFE9F6"/>
<rect x="149.78" y="447.82" width="10.39" height="10.40" fill="#FFF8FC"/>
<rect x="201.46" y="447.82" width="10.39" height="10.40" fill="#FC3AB0"/>
<rect x="211.80" y="447.82" width="10.39" height="10.40" fill="#FD7CCA"/>
<rect x="222.14" y="447.82" width="10.39" height="10.40" fill="#FC3AB0"/>
<rect x="242.81" y="447.82" width="10.39" height="10.40" fill="#FD92D3"/>
<rect x="253.15" y="447.82" width="10.39" height="10.40" fill="#FFE9F6"/>
<rect x="284.16" y="447.82" width="10.39" height="10.40" fill="#FC3AB0"/>
<rect x="294.50" y="447.82" width="10.39" height="10.40" fill="#FC3AB0"/>
<rect x="304.84" y="447.82" width="10.39" height="10.40" fill="#FC3AB0"/>
<rect x="335.85" y="447.82" width="10.39" height="10.40" fill="#FEDEF2"/>
<rect x="346.19" y="447.82" width="10.39" height="10.40" fill="#FC3AB0"/>
<rect x="356.52" y="447.82" width="10.39" height="10.40" fill="#FEA7DC"/>
<rect x="366.86" y="447.82" width="10.39" height="10.40" fill="#FC3AB0"/>
<rect x="46.40" y="458.17" width="10.39" height="10.40" fill="#FEDEF2"/>
<rect x="56.74" y="458.17" width="10.39" height="10.40" fill="#FEBDE5"/>
<rect x="67.08" y="458.17" width="10.39" height="10.40" fill="#FFE9F6"/>
<rect x="77.41" y="458.17" width="10.39" height="10.40" fill="#FEC8E9"/>
<rect x="98.09" y="458.17" width="10.39" height="10.40" fill="#FC5BBD"/>
<rect x="108.43" y="458.17" width="10.39" height="10.40" fill="#FD71C6"/>
<rect x="118.76" y="458.17" width="10.39" height="10.40" fill="#FC45B4"/>
<rect x="139.44" y="458.17" width="10.39" height="10.40" fill="#FED3ED"/>
<rect x="149.78" y="458.17" width="10.39" height="10.40" fill="#FFF4FB"/>
<rect x="160.11" y="458.17" width="10.39" height="10.40" fill="#FFF4FB"/>
<rect x="201.46" y="458.17" width="10.39" height="10.40" fill="#FED3ED"/>
<rect x="211.80" y="458.17" width="10.39" height="10.40" fill="#FD7CCA"/>
<rect x="222.14" y="458.17" width="10.39" height="10.40" fill="#FED3ED"/>
<rect x="232.48" y="458.17" width="10.39" height="10.40" fill="#FC3AB0"/>
<rect x="242.81" y="458.17" width="10.39" height="10.40" fill="#FFEDF8"/>
<rect x="273.82" y="458.17" width="10.39" height="10.40" fill="#FFE9F6"/>
<rect x="284.16" y="458.17" width="10.39" height="10.40" fill="#FC3AB0"/>
<rect x="294.50" y="458.17" width="10.39" height="10.40" fill="#FC3AB0"/>
<rect x="304.84" y="458.17" width="10.39" height="10.40" fill="#FC3AB0"/>
<rect x="315.18" y="458.17" width="10.39" height="10.40" fill="#FFE9F6"/>
<rect x="346.19" y="458.17" width="10.39" height="10.40" fill="#FC3AB0"/>
<rect x="356.52" y="458.17" width="10.39" height="10.40" fill="#FC3AB0"/>
<rect x="366.86" y="458.17" width="10.39" height="10.40" fill="#FFF8FC"/>
<rect x="56.74" y="468.52" width="10.39" height="10.40" fill="#FEDEF2"/>
<rect x="108.43" y="468.52" width="10.39" height="10.40" fill="#FC50B9"/>
<rect x="222.14" y="468.52" width="10.39" height="10.40" fill="#FFE9F6"/>
<rect x="242.81" y="468.52" width="10.39" height="10.40" fill="#FED3ED"/>
<rect x="273.82" y="468.52" width="10.39" height="10.40" fill="#FFF8FC"/>
<rect x="346.19" y="468.52" width="10.39" height="10.40" fill="#FED3ED"/>
<rect x="56.74" y="478.87" width="10.39" height="10.40" fill="#FEB2E0"/>
<rect x="67.08" y="478.87" width="10.39" height="10.40" fill="#FFE9F6"/>
<rect x="77.41" y="478.87" width="10.39" height="10.40" fill="#FFF4FB"/>
<rect x="118.76" y="478.87" width="10.39" height="10.40" fill="#FFF4FB"/>
<rect x="139.44" y="478.87" width="10.39" height="10.40" fill="#FFEDF8"/>
<rect x="211.80" y="478.87" width="10.39" height="10.40" fill="#FFE9F6"/>
<rect x="222.14" y="478.87" width="10.39" height="10.40" fill="#FEB2E0"/>
<rect x="242.81" y="478.87" width="10.39" height="10.40" fill="#FEC8E9"/>
<rect x="284.16" y="478.87" width="10.39" height="10.40" fill="#FFF4FB"/>
<rect x="304.84" y="478.87" width="10.39" height="10.40" fill="#FED3ED"/>
<rect x="346.19" y="478.87" width="10.39" height="10.40" fill="#FEC8E9"/>
<rect x="56.74" y="489.21" width="10.39" height="10.40" fill="#FC3AB0"/>
<rect x="67.08" y="489.21" width="10.39" height="10.40" fill="#FFE9F6"/>
<rect x="77.41" y="489.21" width="10.39" height="10.40" fill="#FC3AB0"/>
<rect x="108.43" y="489.21" width="10.39" height="10.40" fill="#FFE9F6"/>
<rect x="118.76" y="489.21" width="10.39" height="10.40" fill="#FC3AB0"/>
<rect x="139.44" y="489.21" width="10.39" height="10.40" fill="#FC3AB0"/>
<rect x="149.78" y="489.21" width="10.39" height="10.40" fill="#FFEDF8"/>
<rect x="170.45" y="489.21" width="10.39" height="10.40" fill="#FED3ED"/>
<rect x="180.79" y="489.21" width="10.39" height="10.40" fill="#FFF4FB"/>
<rect x="201.46" y="489.21" width="10.39" height="10.40" fill="#FFEDF8"/>
<rect x="211.80" y="489.21" width="10.39" height="10.40" fill="#FED3ED"/>
<rect x="222.14" y="489.21" width="10.39" height="10.40" fill="#FEC8E9"/>
<rect x="242.81" y="489.21" width="10.39" height="10.40" fill="#FC3AB0"/>
<rect x="284.16" y="489.21" width="10.39" height="10.40" fill="#FC3AB0"/>
<rect x="294.50" y="489.21" width="10.39" height="10.40" fill="#FC3AB0"/>
<rect x="304.84" y="489.21" width="10.39" height="10.40" fill="#FEDEF2"/>
<rect x="315.18" y="489.21" width="10.39" height="10.40" fill="#FD92D3"/>
<rect x="346.19" y="489.21" width="10.39" height="10.40" fill="#FC3AB0"/>
<rect x="356.52" y="489.21" width="10.39" height="10.40" fill="#FFEDF8"/>
<rect x="366.86" y="489.21" width="10.39" height="10.40" fill="#FFF8FC"/>
<rect x="56.74" y="499.56" width="10.39" height="10.40" fill="#FC50B9"/>
<rect x="67.08" y="499.56" width="10.39" height="10.40" fill="#FEC8E9"/>
<rect x="77.41" y="499.56" width="10.39" height="10.40" fill="#FC3AB0"/>
<rect x="108.43" y="499.56" width="10.39" height="10.40" fill="#FC3AB0"/>
<rect x="118.76" y="499.56" width="10.39" height="10.40" fill="#FC3AB0"/>
<rect x="129.10" y="499.56" width="10.39" height="10.40" fill="#FFF4FB"/>
<rect x="139.44" y="499.56" width="10.39" height="10.40" fill="#FC3AB0"/>
<rect x="149.78" y="499.56" width="10.39" height="10.40" fill="#FEC8E9"/>
<rect x="201.46" y="499.56" width="10.39" height="10.40" fill="#FED3ED"/>
<rect x="211.80" y="499.56" width="10.39" height="10.40" fill="#FEB2E0"/>
<rect x="222.14" y="499.56" width="10.39" height="10.40" fill="#FC3AB0"/>
<rect x="232.48" y="499.56" width="10.39" height="10.40" fill="#FD7CCA"/>
<rect x="242.81" y="499.56" width="10.39" height="10.40" fill="#FC3AB0"/>
<rect x="253.15" y="499.56" width="10.39" height="10.40" fill="#FED3ED"/>
<rect x="273.82" y="499.56" width="10.39" height="10.40" fill="#FEDEF2"/>
<rect x="294.50" y="499.56" width="10.39" height="10.40" fill="#FEDEF2"/>
<rect x="304.84" y="499.56" width="10.39" height="10.40" fill="#FEB2E0"/>
<rect x="346.19" y="499.56" width="10.39" height="10.40" fill="#FC3AB0"/>
<rect x="356.52" y="499.56" width="10.39" height="10.40" fill="#FC3AB0"/>
<rect x="56.74" y="509.91" width="10.39" height="10.40" fill="#FEDEF2"/>
<rect x="67.08" y="509.91" width="10.39" height="10.40" fill="#FFF4FB"/>
<rect x="77.41" y="509.91" width="10.39" height="10.40" fill="#FFF4FB"/>
<rect x="118.76" y="509.91" width="10.39" height="10.40" fill="#FFF4FB"/>
<rect x="129.10" y="509.91" width="10.39" height="10.40" fill="#FFF4FB"/>
<rect x="139.44" y="509.91" width="10.39" height="10.40" fill="#FEDEF2"/>
<rect x="201.46" y="509.91" width="10.39" height="10.40" fill="#FFF8FC"/>
<rect x="211.80" y="509.91" width="10.39" height="10.40" fill="#FFE9F6"/>
<rect x="222.14" y="509.91" width="10.39" height="10.40" fill="#FFE9F6"/>
<rect x="242.81" y="509.91" width="10.39" height="10.40" fill="#FEDEF2"/>
<rect x="263.49" y="509.91" width="10.39" height="10.40" fill="#FFF4FB"/>
<rect x="284.16" y="509.91" width="10.39" height="10.40" fill="#FFF4FB"/>
<rect x="294.50" y="509.91" width="10.39" height="10.40" fill="#FFE9F6"/>
<rect x="346.19" y="509.91" width="10.39" height="10.40" fill="#FE9CD8"/>
<rect x="356.52" y="509.91" width="10.39" height="10.40" fill="#FFEDF8"/>
<rect x="46.40" y="520.26" width="10.39" height="10.40" fill="#FEBDE5"/>
<rect x="56.74" y="520.26" width="10.39" height="10.40" fill="#FEB2E0"/>
<rect x="67.08" y="520.26" width="10.39" height="10.40" fill="#FFE9F6"/>
<rect x="77.41" y="520.26" width="10.39" height="10.40" fill="#FEDEF2"/>
<rect x="87.75" y="520.26" width="10.39" height="10.40" fill="#FFF4FB"/>
<rect x="98.09" y="520.26" width="10.39" height="10.40" fill="#FFF4FB"/>
<rect x="108.43" y="520.26" width="10.39" height="10.40" fill="#FFE9F6"/>
<rect x="118.76" y="520.26" width="10.39" height="10.40" fill="#FFF4FB"/>
<rect x="129.10" y="520.26" width="10.39" height="10.40" fill="#FFF8FC"/>
<rect x="222.14" y="520.26" width="10.39" height="10.40" fill="#FFE9F6"/>
<rect x="242.81" y="520.26" width="10.39" height="10.40" fill="#FFF4FB"/>
<rect x="253.15" y="520.26" width="10.39" height="10.40" fill="#FED3ED"/>
<rect x="294.50" y="520.26" width="10.39" height="10.40" fill="#FFEDF8"/>
<rect x="304.84" y="520.26" width="10.39" height="10.40" fill="#FC3AB0"/>
<rect x="346.19" y="520.26" width="10.39" height="10.40" fill="#FC3AB0"/>
<rect x="356.52" y="520.26" width="10.39" height="10.40" fill="#FC3AB0"/>
<rect x="56.74" y="530.60" width="10.39" height="10.40" fill="#FFE9F6"/>
<rect x="67.08" y="530.60" width="10.39" height="10.40" fill="#FFF4FB"/>
<rect x="77.41" y="530.60" width="10.39" height="10.40" fill="#FFF4FB"/>
<rect x="87.75" y="530.60" width="10.39" height="10.40" fill="#FFF4FB"/>
<rect x="98.09" y="530.60" width="10.39" height="10.40" fill="#FFF4FB"/>
<rect x="108.43" y="530.60" width="10.39" height="10.40" fill="#FC3AB0"/>
<rect x="118.76" y="530.60" width="10.39" height="10.40" fill="#FD66C2"/>
<rect x="201.46" y="530.60" width="10.39" height="10.40" fill="#FEB2E0"/>
<rect x="211.80" y="530.60" width="10.39" height="10.40" fill="#FFE9F6"/>
<rect x="242.81" y="530.60" width="10.39" height="10.40" fill="#FC3AB0"/>
<rect x="284.16" y="530.60" width="10.39" height="10.40" fill="#FFE9F6"/>
<rect x="294.50" y="530.60" width="10.39" height="10.40" fill="#FC3AB0"/>
<rect x="304.84" y="530.60" width="10.39" height="10.40" fill="#FFE9F6"/>
<rect x="346.19" y="530.60" width="10.39" height="10.40" fill="#FEB2E0"/>
<rect x="356.52" y="530.60" width="10.39" height="10.40" fill="#FC3AB0"/>
<rect x="366.86" y="530.60" width="10.39" height="10.40" fill="#FC3AB0"/>
<rect x="56.74" y="540.95" width="10.39" height="10.40" fill="#FEC8E9"/>
<rect x="67.08" y="540.95" width="10.39" height="10.40" fill="#FEA7DC"/>
<rect x="87.75" y="540.95" width="10.39" height="10.40" fill="#FD92D3"/>
<rect x="98.09" y="540.95" width="10.39" height="10.40" fill="#FFE9F6"/>
<rect x="118.76" y="540.95" width="10.39" height="10.40" fill="#FC3AB0"/>
<rect x="129.10" y="540.95" width="10.39" height="10.40" fill="#FFE9F6"/>
<rect x="139.44" y="540.95" width="10.39" height="10.40" fill="#FC3AB0"/>
<rect x="201.46" y="540.95" width="10.39" height="10.40" fill="#FFF4FB"/>
<rect x="211.80" y="540.95" width="10.39" height="10.40" fill="#FEBDE5"/>
<rect x="222.14" y="540.95" width="10.39" height="10.40" fill="#FC3AB0"/>
<rect x="242.81" y="540.95" width="10.39" height="10.40" fill="#FC3AB0"/>
<rect x="253.15" y="540.95" width="10.39" height="10.40" fill="#FC3AB0"/>
<rect x="263.49" y="540.95" width="10.39" height="10.40" fill="#FFF8FC"/>
<rect x="284.16" y="540.95" width="10.39" height="10.40" fill="#FD7CCA"/>
<rect x="294.50" y="540.95" width="10.39" height="10.40" fill="#FC3AB0"/>
<rect x="304.84" y="540.95" width="10.39" height="10.40" fill="#FC3AB0"/>
<rect x="315.18" y="540.95" width="10.39" height="10.40" fill="#FC3AB0"/>
<rect x="335.85" y="540.95" width="10.39" height="10.40" fill="#FFE9F6"/>
<rect x="346.19" y="540.95" width="10.39" height="10.40" fill="#FC3AB0"/>
<rect x="356.52" y="540.95" width="10.39" height="10.40" fill="#FC3AB0"/>
<path d="M56.74 334.00V551.30M67.08 334.00V551.30M77.41 334.00V551.30M87.75 334.00V551.30M98.09 334.00V551.30M108.43 334.00V551.30M118.76 334.00V551.30M129.10 334.00V551.30M139.44 334.00V551.30M149.78 334.00V551.30M191.12 334.00V551.30M201.46 334.00V551.30M211.80 334.00V551.30M222.14 334.00V551.30M232.48 334.00V551.30M242.81 334.00V551.30M253.15 334.00V551.30M263.49 334.00V551.30M273.82 334.00V551.30M284.16 334.00V551.30M294.50 334.00V551.30M304.84 334.00V551.30M315.18 334.00V551.30M325.51 334.00V551.30M335.85 334.00V551.30M346.19 334.00V551.30M356.52 334.00V551.30M366.86 334.00V551.30M46.40 344.35H377.20M46.40 354.70H377.20M46.40 375.39H377.20M46.40 385.74H377.20M46.40 396.09H377.20M46.40 416.78H377.20M46.40 427.13H377.20M46.40 437.48H377.20M46.40 447.82H377.20M46.40 458.17H377.20M46.40 468.52H377.20M46.40 478.87H377.20M46.40 489.21H377.20M46.40 509.91H377.20M46.40 520.26H377.20M46.40 530.60H377.20M46.40 540.95H377.20" stroke="#8FA28F" stroke-width="0.8" fill="none" style="mix-blend-mode:multiply"/>
<path d="M46.40 365.04H377.20M46.40 499.56H377.20" stroke="#C4D0C4" stroke-width="0.8" fill="none" style="mix-blend-mode:multiply"/>
<rect x="46.40" y="334.00" width="330.80" height="217.30" fill="none" stroke="#7E977E" stroke-width="1.1"/>
<text x="42.40" y="341.50" font-size="9.0" text-anchor="end" fill="#111">NF2</text>
<text x="42.40" y="351.92" font-size="9.0" text-anchor="end" fill="#111">MST1</text>
<text x="42.40" y="362.34" font-size="9.0" text-anchor="end" fill="#111">MST2</text>
<text x="42.40" y="372.76" font-size="9.0" text-anchor="end" fill="#111">SAV1</text>
<text x="42.40" y="383.18" font-size="9.0" text-anchor="end" fill="#111">MAP4K1</text>
<text x="42.40" y="393.60" font-size="9.0" text-anchor="end" fill="#111">MAP4K2</text>
<text x="42.40" y="404.02" font-size="9.0" text-anchor="end" fill="#111">MAP4K3</text>
<text x="42.40" y="414.44" font-size="9.0" text-anchor="end" fill="#111">MAP4K4</text>
<text x="42.40" y="424.86" font-size="9.0" text-anchor="end" fill="#111">MAP4K5</text>
<text x="42.40" y="435.28" font-size="9.0" text-anchor="end" fill="#111">MAP4K6</text>
<text x="42.40" y="445.70" font-size="9.0" text-anchor="end" fill="#111">MAP4K7</text>
<text x="42.40" y="456.12" font-size="9.0" text-anchor="end" fill="#111">LATS1</text>
<text x="42.40" y="466.54" font-size="9.0" text-anchor="end" fill="#111">LATS2</text>
<text x="42.40" y="476.96" font-size="9.0" text-anchor="end" fill="#111">MOB1A</text>
<text x="42.40" y="487.38" font-size="9.0" text-anchor="end" fill="#111">MOB1B</text>
<text x="42.40" y="497.80" font-size="9.0" text-anchor="end" fill="#111">YAP</text>
<text x="42.40" y="508.22" font-size="9.0" text-anchor="end" fill="#111">TAZ</text>
<text x="42.40" y="518.64" font-size="9.0" text-anchor="end" fill="#111">TEAD1</text>
<text x="42.40" y="529.06" font-size="9.0" text-anchor="end" fill="#111">TEAD2</text>
<text x="42.40" y="539.48" font-size="9.0" text-anchor="end" fill="#111">TEAD3</text>
<text x="42.40" y="549.90" font-size="9.0" text-anchor="end" fill="#111">TEAD4</text>
<text transform="translate(54.87,329.80) rotate(-90)" font-size="9.4" fill="#111">ACC (93)</text>
<text transform="translate(65.21,329.80) rotate(-90)" font-size="9.4" fill="#111">BLCA (412)</text>
<text transform="translate(75.54,329.80) rotate(-90)" font-size="9.4" fill="#111">BRCA (1099)</text>
<text transform="translate(85.88,329.80) rotate(-90)" font-size="9.4" fill="#111">CESC (308)</text>
<text transform="translate(96.22,329.80) rotate(-90)" font-size="9.4" fill="#111">CHOL (51)</text>
<text transform="translate(106.56,329.80) rotate(-90)" font-size="9.4" fill="#111">COAD (636)</text>
<text transform="translate(116.89,329.80) rotate(-90)" font-size="9.4" fill="#111">DLBC (48)</text>
<text transform="translate(127.23,329.80) rotate(-90)" font-size="9.4" fill="#111">ESCA (185)</text>
<text transform="translate(137.57,329.80) rotate(-90)" font-size="9.4" fill="#111">GBM (602)</text>
<text transform="translate(147.91,329.80) rotate(-90)" font-size="9.4" fill="#111">HNSC (528)</text>
<text transform="translate(158.24,329.80) rotate(-90)" font-size="9.4" fill="#111">KICH (66)</text>
<text transform="translate(168.58,329.80) rotate(-90)" font-size="9.4" fill="#111">KIRC (537)</text>
<text transform="translate(178.92,329.80) rotate(-90)" font-size="9.4" fill="#111">KIRP (292)</text>
<text transform="translate(189.26,329.80) rotate(-90)" font-size="9.4" fill="#111">LAML (200)</text>
<text transform="translate(199.59,329.80) rotate(-90)" font-size="9.4" fill="#111">LGG (521)</text>
<text transform="translate(209.93,329.80) rotate(-90)" font-size="9.4" fill="#111">LIHC (440)</text>
<text transform="translate(220.27,329.80) rotate(-90)" font-size="9.4" fill="#111">LUAD (745)</text>
<text transform="translate(230.61,329.80) rotate(-90)" font-size="9.4" fill="#111">LUSC (511)</text>
<text transform="translate(240.94,329.80) rotate(-90)" font-size="9.4" fill="#111">MESO (24)</text>
<text transform="translate(251.28,329.80) rotate(-90)" font-size="9.4" fill="#111">OV (597)</text>
<text transform="translate(261.62,329.80) rotate(-90)" font-size="9.4" fill="#111">PAAD (185)</text>
<text transform="translate(271.96,329.80) rotate(-90)" font-size="9.4" fill="#111">PCPG (179)</text>
<text transform="translate(282.29,329.80) rotate(-90)" font-size="9.4" fill="#111">PRAD (770)</text>
<text transform="translate(292.63,329.80) rotate(-90)" font-size="9.4" fill="#111">SARC (261)</text>
<text transform="translate(302.97,329.80) rotate(-90)" font-size="9.4" fill="#111">SKCM (471)</text>
<text transform="translate(313.31,329.80) rotate(-90)" font-size="9.4" fill="#111">STAD (478)</text>
<text transform="translate(323.64,329.80) rotate(-90)" font-size="9.4" fill="#111">TGCT (150)</text>
<text transform="translate(333.98,329.80) rotate(-90)" font-size="9.4" fill="#111">THCA (508)</text>
<text transform="translate(344.32,329.80) rotate(-90)" font-size="9.4" fill="#111">THYM (124)</text>
<text transform="translate(354.66,329.80) rotate(-90)" font-size="9.4" fill="#111">UCEC (548)</text>
<text transform="translate(364.99,329.80) rotate(-90)" font-size="9.4" fill="#111">UCS (57)</text>
<text transform="translate(375.33,329.80) rotate(-90)" font-size="9.4" fill="#111">UVM (80)</text>
<defs><linearGradient id="cb" x1="0" y1="0" x2="0" y2="1"><stop offset="0" stop-color="#FFFFFF"/><stop offset="1" stop-color="#F23A9E"/></linearGradient><clipPath id="clipTop"><rect x="0" y="0" width="685" height="139.5"/></clipPath></defs>
<rect x="383.8" y="438.6" width="4.8" height="88.6" fill="url(#cb)" stroke="#999" stroke-width="0.6"/>
<text transform="translate(383.00,340.60) rotate(90)" font-size="10.1" fill="#111">Genomic alteration</text>
<text transform="translate(383.20,431.20) rotate(90)" font-size="8.2" fill="#111">0</text>
<text transform="translate(383.00,530.40) rotate(90)" font-size="8.2" fill="#111">&gt;5%</text>
<rect x="382.40" y="170.30" width="284.00" height="49.00" rx="7" ry="7" fill="none" stroke="#8a8a8a" stroke-width="0.8"/>
<path d="M407.60 181.60A18.0 18.0 0 0 1 421.39 188.03L413.27 194.84A7.4 7.4 0 0 0 407.60 192.20Z" fill="#ED7D31" stroke="#fff" stroke-width="0.5"/>
<path d="M421.39 188.03A18.0 18.0 0 0 1 424.51 193.44L414.55 197.07A7.4 7.4 0 0 0 413.27 194.84Z" fill="#FFC000" stroke="#fff" stroke-width="0.5"/>
<path d="M424.51 193.44A18.0 18.0 0 1 1 400.86 182.91L404.83 192.74A7.4 7.4 0 1 0 414.55 197.07Z" fill="#70AD47" stroke="#fff" stroke-width="0.5"/>
<path d="M400.86 182.91A18.0 18.0 0 0 1 403.25 182.13L405.81 192.42A7.4 7.4 0 0 0 404.83 192.74Z" fill="#9E480E" stroke="#fff" stroke-width="0.5"/>
<path d="M403.25 182.13A18.0 18.0 0 0 1 406.34 181.64L407.08 192.22A7.4 7.4 0 0 0 405.81 192.42Z" fill="#997300" stroke="#fff" stroke-width="0.5"/>
<path d="M406.34 181.64A18.0 18.0 0 0 1 407.60 181.60L407.60 192.20A7.4 7.4 0 0 0 407.08 192.22Z" fill="#43682B" stroke="#fff" stroke-width="0.5"/>
<text x="407.60" y="201.50" font-size="7.6" text-anchor="middle" fill="#222">178</text>
<text x="407.60" y="180.00" font-size="8.3" text-anchor="middle" fill="#111">MAP4K1</text>
<path d="M446.50 181.60A18.0 18.0 0 0 1 456.57 184.68L450.64 193.47A7.4 7.4 0 0 0 446.50 192.20Z" fill="#ED7D31" stroke="#fff" stroke-width="0.5"/>
<path d="M456.57 184.68A18.0 18.0 0 1 1 438.61 183.42L443.26 192.95A7.4 7.4 0 1 0 450.64 193.47Z" fill="#70AD47" stroke="#fff" stroke-width="0.5"/>
<path d="M438.61 183.42A18.0 18.0 0 0 1 439.18 183.16L443.49 192.84A7.4 7.4 0 0 0 443.26 192.95Z" fill="#9E480E" stroke="#fff" stroke-width="0.5"/>
<path d="M439.18 183.16A18.0 18.0 0 0 1 446.50 181.60L446.50 192.20A7.4 7.4 0 0 0 443.49 192.84Z" fill="#997300" stroke="#fff" stroke-width="0.5"/>
<text x="446.50" y="201.50" font-size="7.6" text-anchor="middle" fill="#222">120</text>
<text x="445.20" y="180.00" font-size="8.3" text-anchor="middle" fill="#111">MAP4K2</text>
<path d="M485.40 181.60A18.0 18.0 0 0 1 496.97 185.81L490.16 193.93A7.4 7.4 0 0 0 485.40 192.20Z" fill="#ED7D31" stroke="#fff" stroke-width="0.5"/>
<path d="M496.97 185.81A18.0 18.0 0 0 1 502.87 195.25L492.58 197.81A7.4 7.4 0 0 0 490.16 193.93Z" fill="#FFC000" stroke="#fff" stroke-width="0.5"/>
<path d="M502.87 195.25A18.0 18.0 0 1 1 475.33 184.68L481.26 193.47A7.4 7.4 0 1 0 492.58 197.81Z" fill="#70AD47" stroke="#fff" stroke-width="0.5"/>
<path d="M475.33 184.68A18.0 18.0 0 0 1 480.14 182.39L483.24 192.52A7.4 7.4 0 0 0 481.26 193.47Z" fill="#9E480E" stroke="#fff" stroke-width="0.5"/>
<path d="M480.14 182.39A18.0 18.0 0 0 1 484.14 181.64L484.88 192.22A7.4 7.4 0 0 0 483.24 192.52Z" fill="#997300" stroke="#fff" stroke-width="0.5"/>
<path d="M484.14 181.64A18.0 18.0 0 0 1 485.40 181.60L485.40 192.20A7.4 7.4 0 0 0 484.88 192.22Z" fill="#43682B" stroke="#fff" stroke-width="0.5"/>
<text x="485.40" y="201.50" font-size="7.6" text-anchor="middle" fill="#222">209</text>
<text x="485.40" y="180.00" font-size="8.3" text-anchor="middle" fill="#111">MAP4K3</text>
<path d="M524.30 181.60A18.0 18.0 0 0 1 527.43 181.87L525.58 192.31A7.4 7.4 0 0 0 524.30 192.20Z" fill="#ED7D31" stroke="#fff" stroke-width="0.5"/>
<path d="M527.43 181.87A18.0 18.0 0 0 1 536.58 186.44L529.35 194.19A7.4 7.4 0 0 0 525.58 192.31Z" fill="#FFC000" stroke="#fff" stroke-width="0.5"/>
<path d="M536.58 186.44A18.0 18.0 0 1 1 512.02 186.44L519.25 194.19A7.4 7.4 0 1 0 529.35 194.19Z" fill="#70AD47" stroke="#fff" stroke-width="0.5"/>
<path d="M512.02 186.44A18.0 18.0 0 0 1 515.85 183.71L520.83 193.07A7.4 7.4 0 0 0 519.25 194.19Z" fill="#9E480E" stroke="#fff" stroke-width="0.5"/>
<path d="M515.85 183.71A18.0 18.0 0 0 1 523.36 181.62L523.91 192.21A7.4 7.4 0 0 0 520.83 193.07Z" fill="#997300" stroke="#fff" stroke-width="0.5"/>
<path d="M523.36 181.62A18.0 18.0 0 0 1 524.30 181.60L524.30 192.20A7.4 7.4 0 0 0 523.91 192.21Z" fill="#43682B" stroke="#fff" stroke-width="0.5"/>
<text x="524.30" y="201.50" font-size="7.6" text-anchor="middle" fill="#222">225</text>
<text x="524.30" y="180.00" font-size="8.3" text-anchor="middle" fill="#111">MAP4K4</text>
<path d="M563.20 181.60A18.0 18.0 0 0 1 566.63 181.93L564.61 192.34A7.4 7.4 0 0 0 563.20 192.20Z" fill="#ED7D31" stroke="#fff" stroke-width="0.5"/>
<path d="M566.63 181.93A18.0 18.0 0 0 1 571.09 183.42L566.44 192.95A7.4 7.4 0 0 0 564.61 192.34Z" fill="#FFC000" stroke="#fff" stroke-width="0.5"/>
<path d="M571.09 183.42A18.0 18.0 0 1 1 546.40 193.15L556.29 196.95A7.4 7.4 0 1 0 566.44 192.95Z" fill="#70AD47" stroke="#fff" stroke-width="0.5"/>
<path d="M546.40 193.15A18.0 18.0 0 0 1 550.70 186.65L558.06 194.28A7.4 7.4 0 0 0 556.29 196.95Z" fill="#9E480E" stroke="#fff" stroke-width="0.5"/>
<path d="M550.70 186.65A18.0 18.0 0 0 1 562.57 181.61L562.94 192.20A7.4 7.4 0 0 0 558.06 194.28Z" fill="#997300" stroke="#fff" stroke-width="0.5"/>
<path d="M562.57 181.61A18.0 18.0 0 0 1 563.20 181.60L563.20 192.20A7.4 7.4 0 0 0 562.94 192.20Z" fill="#43682B" stroke="#fff" stroke-width="0.5"/>
<text x="563.20" y="201.50" font-size="7.6" text-anchor="middle" fill="#222">126</text>
<text x="563.20" y="180.00" font-size="8.3" text-anchor="middle" fill="#111">MAP4K5</text>
<path d="M602.10 181.60A18.0 18.0 0 0 1 608.26 182.69L604.63 192.65A7.4 7.4 0 0 0 602.10 192.20Z" fill="#ED7D31" stroke="#fff" stroke-width="0.5"/>
<path d="M608.26 182.69A18.0 18.0 0 0 1 614.14 186.22L607.05 194.10A7.4 7.4 0 0 0 604.63 192.65Z" fill="#FFC000" stroke="#fff" stroke-width="0.5"/>
<path d="M614.14 186.22A18.0 18.0 0 1 1 591.02 185.42L597.54 193.77A7.4 7.4 0 1 0 607.05 194.10Z" fill="#70AD47" stroke="#fff" stroke-width="0.5"/>
<path d="M591.02 185.42A18.0 18.0 0 0 1 593.65 183.71L598.63 193.07A7.4 7.4 0 0 0 597.54 193.77Z" fill="#9E480E" stroke="#fff" stroke-width="0.5"/>
<path d="M593.65 183.71A18.0 18.0 0 0 1 601.47 181.61L601.84 192.20A7.4 7.4 0 0 0 598.63 193.07Z" fill="#997300" stroke="#fff" stroke-width="0.5"/>
<path d="M601.47 181.61A18.0 18.0 0 0 1 602.10 181.60L602.10 192.20A7.4 7.4 0 0 0 601.84 192.20Z" fill="#43682B" stroke="#fff" stroke-width="0.5"/>
<text x="602.10" y="201.50" font-size="7.6" text-anchor="middle" fill="#222">201</text>
<text x="602.10" y="180.00" font-size="8.3" text-anchor="middle" fill="#111">MAP4K6</text>
<path d="M641.00 181.60A18.0 18.0 0 0 1 645.35 182.13L642.79 192.42A7.4 7.4 0 0 0 641.00 192.20Z" fill="#ED7D31" stroke="#fff" stroke-width="0.5"/>
<path d="M645.35 182.13A18.0 18.0 0 0 1 656.43 190.33L647.34 195.79A7.4 7.4 0 0 0 642.79 192.42Z" fill="#FFC000" stroke="#fff" stroke-width="0.5"/>
<path d="M656.43 190.33A18.0 18.0 0 1 1 630.93 184.68L636.86 193.47A7.4 7.4 0 1 0 647.34 195.79Z" fill="#70AD47" stroke="#fff" stroke-width="0.5"/>
<path d="M630.93 184.68A18.0 18.0 0 0 1 632.55 183.71L637.53 193.07A7.4 7.4 0 0 0 636.86 193.47Z" fill="#9E480E" stroke="#fff" stroke-width="0.5"/>
<path d="M632.55 183.71A18.0 18.0 0 0 1 640.37 181.61L640.74 192.20A7.4 7.4 0 0 0 637.53 193.07Z" fill="#997300" stroke="#fff" stroke-width="0.5"/>
<path d="M640.37 181.61A18.0 18.0 0 0 1 641.00 181.60L641.00 192.20A7.4 7.4 0 0 0 640.74 192.20Z" fill="#43682B" stroke="#fff" stroke-width="0.5"/>
<text x="641.00" y="201.50" font-size="7.6" text-anchor="middle" fill="#222">400</text>
<text x="641.00" y="180.00" font-size="8.3" text-anchor="middle" fill="#111">MAP4K7</text>
<rect x="406.90" y="230.00" width="49.60" height="49.20" rx="7" ry="7" fill="none" stroke="#8a8a8a" stroke-width="0.8"/>
<path d="M432.20 242.20A18.0 18.0 0 0 1 445.99 248.63L437.87 255.44A7.4 7.4 0 0 0 432.20 252.80Z" fill="#ED7D31" stroke="#fff" stroke-width="0.5"/>
<path d="M445.99 248.63A18.0 18.0 0 0 1 446.94 270.52L438.26 264.44A7.4 7.4 0 0 0 437.87 255.44Z" fill="#FFC000" stroke="#fff" stroke-width="0.5"/>
<path d="M446.94 270.52A18.0 18.0 0 0 1 416.16 252.03L425.61 256.84A7.4 7.4 0 0 0 438.26 264.44Z" fill="#70AD47" stroke="#fff" stroke-width="0.5"/>
<path d="M416.16 252.03A18.0 18.0 0 0 1 422.40 245.10L428.17 253.99A7.4 7.4 0 0 0 425.61 256.84Z" fill="#9E480E" stroke="#fff" stroke-width="0.5"/>
<path d="M422.40 245.10A18.0 18.0 0 0 1 432.20 242.20L432.20 252.80A7.4 7.4 0 0 0 428.17 253.99Z" fill="#997300" stroke="#fff" stroke-width="0.5"/>
<text x="432.20" y="262.10" font-size="7.6" text-anchor="middle" fill="#222">190</text>
<text x="432.20" y="240.20" font-size="9.4" text-anchor="middle" fill="#111">NF2</text>
<rect x="496.80" y="230.20" width="86.80" height="48.90" rx="7" ry="7" fill="none" stroke="#8a8a8a" stroke-width="0.8"/>
<path d="M520.50 242.40A18.0 18.0 0 0 1 525.46 243.10L522.54 253.29A7.4 7.4 0 0 0 520.50 253.00Z" fill="#ED7D31" stroke="#fff" stroke-width="0.5"/>
<path d="M525.46 243.10A18.0 18.0 0 0 1 536.54 252.23L527.09 257.04A7.4 7.4 0 0 0 522.54 253.29Z" fill="#FFC000" stroke="#fff" stroke-width="0.5"/>
<path d="M536.54 252.23A18.0 18.0 0 1 1 510.96 245.14L516.58 254.12A7.4 7.4 0 1 0 527.09 257.04Z" fill="#70AD47" stroke="#fff" stroke-width="0.5"/>
<path d="M510.96 245.14A18.0 18.0 0 0 1 516.15 242.93L518.71 253.22A7.4 7.4 0 0 0 516.58 254.12Z" fill="#9E480E" stroke="#fff" stroke-width="0.5"/>
<path d="M516.15 242.93A18.0 18.0 0 0 1 518.62 242.50L519.73 253.04A7.4 7.4 0 0 0 518.71 253.22Z" fill="#997300" stroke="#fff" stroke-width="0.5"/>
<path d="M518.62 242.50A18.0 18.0 0 0 1 520.50 242.40L520.50 253.00A7.4 7.4 0 0 0 519.73 253.04Z" fill="#43682B" stroke="#fff" stroke-width="0.5"/>
<text x="520.50" y="262.30" font-size="7.6" text-anchor="middle" fill="#222">105</text>
<text x="520.50" y="240.60" font-size="9.4" text-anchor="middle" fill="#111">MST1</text>
<path d="M559.00 242.40A18.0 18.0 0 0 1 563.35 242.93L560.79 253.22A7.4 7.4 0 0 0 559.00 253.00Z" fill="#ED7D31" stroke="#fff" stroke-width="0.5"/>
<path d="M563.35 242.93A18.0 18.0 0 0 1 572.16 248.12L564.41 255.35A7.4 7.4 0 0 0 560.79 253.22Z" fill="#FFC000" stroke="#fff" stroke-width="0.5"/>
<path d="M572.16 248.12A18.0 18.0 0 1 1 548.17 246.02L554.55 254.49A7.4 7.4 0 1 0 564.41 255.35Z" fill="#70AD47" stroke="#fff" stroke-width="0.5"/>
<path d="M548.17 246.02A18.0 18.0 0 0 1 557.74 242.44L558.48 253.02A7.4 7.4 0 0 0 554.55 254.49Z" fill="#9E480E" stroke="#fff" stroke-width="0.5"/>
<path d="M557.74 242.44A18.0 18.0 0 0 1 559.00 242.40L559.00 253.00A7.4 7.4 0 0 0 558.48 253.02Z" fill="#43682B" stroke="#fff" stroke-width="0.5"/>
<text x="559.00" y="262.30" font-size="7.6" text-anchor="middle" fill="#222">138</text>
<text x="559.00" y="240.60" font-size="9.4" text-anchor="middle" fill="#111">MST2</text>
<rect x="585.90" y="230.20" width="49.90" height="49.00" rx="7" ry="7" fill="none" stroke="#8a8a8a" stroke-width="0.8"/>
<path d="M611.10 242.20A18.0 18.0 0 0 1 612.04 242.22L611.49 252.81A7.4 7.4 0 0 0 611.10 252.80Z" fill="#ED7D31" stroke="#fff" stroke-width="0.5"/>
<path d="M612.04 242.22A18.0 18.0 0 0 1 628.92 257.69L618.43 259.17A7.4 7.4 0 0 0 611.49 252.81Z" fill="#FFC000" stroke="#fff" stroke-width="0.5"/>
<path d="M628.92 257.69A18.0 18.0 0 1 1 595.21 251.75L604.57 256.73A7.4 7.4 0 1 0 618.43 259.17Z" fill="#70AD47" stroke="#fff" stroke-width="0.5"/>
<path d="M595.21 251.75A18.0 18.0 0 0 1 597.52 248.39L605.52 255.35A7.4 7.4 0 0 0 604.57 256.73Z" fill="#9E480E" stroke="#fff" stroke-width="0.5"/>
<path d="M597.52 248.39A18.0 18.0 0 0 1 610.47 242.21L610.84 252.80A7.4 7.4 0 0 0 605.52 255.35Z" fill="#997300" stroke="#fff" stroke-width="0.5"/>
<path d="M610.47 242.21A18.0 18.0 0 0 1 611.10 242.20L611.10 252.80A7.4 7.4 0 0 0 610.84 252.80Z" fill="#43682B" stroke="#fff" stroke-width="0.5"/>
<text x="611.10" y="262.10" font-size="7.6" text-anchor="middle" fill="#222">75</text>
<text x="611.10" y="240.20" font-size="9.4" text-anchor="middle" fill="#111">SAV1</text>
<rect x="438.20" y="313.90" width="87.60" height="49.20" rx="7" ry="7" fill="none" stroke="#8a8a8a" stroke-width="0.8"/>
<path d="M462.60 325.90A18.0 18.0 0 0 1 463.54 325.92L462.99 336.51A7.4 7.4 0 0 0 462.60 336.50Z" fill="#ED7D31" stroke="#fff" stroke-width="0.5"/>
<path d="M463.54 325.92A18.0 18.0 0 0 1 478.34 335.17L469.07 340.31A7.4 7.4 0 0 0 462.99 336.51Z" fill="#FFC000" stroke="#fff" stroke-width="0.5"/>
<path d="M478.34 335.17A18.0 18.0 0 1 1 451.77 329.52L458.15 337.99A7.4 7.4 0 1 0 469.07 340.31Z" fill="#70AD47" stroke="#fff" stroke-width="0.5"/>
<path d="M451.77 329.52A18.0 18.0 0 0 1 452.53 328.98L458.46 337.77A7.4 7.4 0 0 0 458.15 337.99Z" fill="#9E480E" stroke="#fff" stroke-width="0.5"/>
<path d="M452.53 328.98A18.0 18.0 0 0 1 461.66 325.92L462.21 336.51A7.4 7.4 0 0 0 458.46 337.77Z" fill="#997300" stroke="#fff" stroke-width="0.5"/>
<path d="M461.66 325.92A18.0 18.0 0 0 1 462.60 325.90L462.60 336.50A7.4 7.4 0 0 0 462.21 336.51Z" fill="#43682B" stroke="#fff" stroke-width="0.5"/>
<text x="462.60" y="345.80" font-size="7.6" text-anchor="middle" fill="#222">273</text>
<text x="462.60" y="324.30" font-size="9.4" text-anchor="middle" fill="#111">LATS1</text>
<path d="M501.50 325.90A18.0 18.0 0 0 1 502.13 325.91L501.76 336.50A7.4 7.4 0 0 0 501.50 336.50Z" fill="#ED7D31" stroke="#fff" stroke-width="0.5"/>
<path d="M502.13 325.91A18.0 18.0 0 0 1 509.95 328.01L504.97 337.37A7.4 7.4 0 0 0 501.76 336.50Z" fill="#FFC000" stroke="#fff" stroke-width="0.5"/>
<path d="M509.95 328.01A18.0 18.0 0 1 1 492.23 328.47L497.69 337.56A7.4 7.4 0 1 0 504.97 337.37Z" fill="#70AD47" stroke="#fff" stroke-width="0.5"/>
<path d="M492.23 328.47A18.0 18.0 0 0 1 493.61 327.72L498.26 337.25A7.4 7.4 0 0 0 497.69 337.56Z" fill="#9E480E" stroke="#fff" stroke-width="0.5"/>
<path d="M493.61 327.72A18.0 18.0 0 0 1 500.87 325.91L501.24 336.50A7.4 7.4 0 0 0 498.26 337.25Z" fill="#997300" stroke="#fff" stroke-width="0.5"/>
<path d="M500.87 325.91A18.0 18.0 0 0 1 501.50 325.90L501.50 336.50A7.4 7.4 0 0 0 501.24 336.50Z" fill="#43682B" stroke="#fff" stroke-width="0.5"/>
<text x="501.50" y="345.80" font-size="7.6" text-anchor="middle" fill="#222">240</text>
<text x="501.50" y="324.30" font-size="9.4" text-anchor="middle" fill="#111">LATS2</text>
<rect x="531.20" y="313.90" width="87.50" height="49.20" rx="7" ry="7" fill="none" stroke="#8a8a8a" stroke-width="0.8"/>
<path d="M556.10 325.90A18.0 18.0 0 0 1 564.83 328.16L559.69 337.43A7.4 7.4 0 0 0 556.10 336.50Z" fill="#ED7D31" stroke="#fff" stroke-width="0.5"/>
<path d="M564.83 328.16A18.0 18.0 0 1 1 547.10 328.31L552.40 337.49A7.4 7.4 0 1 0 559.69 337.43Z" fill="#70AD47" stroke="#fff" stroke-width="0.5"/>
<path d="M547.10 328.31A18.0 18.0 0 0 1 551.44 326.51L554.18 336.75A7.4 7.4 0 0 0 552.40 337.49Z" fill="#9E480E" stroke="#fff" stroke-width="0.5"/>
<path d="M551.44 326.51A18.0 18.0 0 0 1 555.47 325.91L555.84 336.50A7.4 7.4 0 0 0 554.18 336.75Z" fill="#997300" stroke="#fff" stroke-width="0.5"/>
<path d="M555.47 325.91A18.0 18.0 0 0 1 556.10 325.90L556.10 336.50A7.4 7.4 0 0 0 555.84 336.50Z" fill="#43682B" stroke="#fff" stroke-width="0.5"/>
<text x="556.10" y="345.80" font-size="7.6" text-anchor="middle" fill="#222">24</text>
<text x="556.10" y="324.30" font-size="9.4" text-anchor="middle" fill="#111">MOB1A</text>
<path d="M594.40 325.90A18.0 18.0 0 0 1 600.56 326.99L596.93 336.95A7.4 7.4 0 0 0 594.40 336.50Z" fill="#ED7D31" stroke="#fff" stroke-width="0.5"/>
<path d="M600.56 326.99A18.0 18.0 0 0 1 611.87 339.55L601.58 342.11A7.4 7.4 0 0 0 596.93 336.95Z" fill="#FFC000" stroke="#fff" stroke-width="0.5"/>
<path d="M611.87 339.55A18.0 18.0 0 1 1 576.53 346.09L587.06 344.80A7.4 7.4 0 1 0 601.58 342.11Z" fill="#70AD47" stroke="#fff" stroke-width="0.5"/>
<path d="M576.53 346.09A18.0 18.0 0 0 1 579.48 333.83L588.27 339.76A7.4 7.4 0 0 0 587.06 344.80Z" fill="#9E480E" stroke="#fff" stroke-width="0.5"/>
<path d="M579.48 333.83A18.0 18.0 0 0 1 591.89 326.08L593.37 336.57A7.4 7.4 0 0 0 588.27 339.76Z" fill="#997300" stroke="#fff" stroke-width="0.5"/>
<path d="M591.89 326.08A18.0 18.0 0 0 1 594.40 325.90L594.40 336.50A7.4 7.4 0 0 0 593.37 336.57Z" fill="#43682B" stroke="#fff" stroke-width="0.5"/>
<text x="594.40" y="345.80" font-size="7.6" text-anchor="middle" fill="#222">52</text>
<text x="594.40" y="324.30" font-size="9.4" text-anchor="middle" fill="#111">MOB1B</text>
<rect x="439.00" y="402.20" width="87.60" height="48.80" rx="7" ry="7" fill="none" stroke="#8a8a8a" stroke-width="0.8"/>
<path d="M462.60 413.80A18.0 18.0 0 0 1 464.17 413.87L463.24 424.43A7.4 7.4 0 0 0 462.60 424.40Z" fill="#ED7D31" stroke="#fff" stroke-width="0.5"/>
<path d="M464.17 413.87A18.0 18.0 0 0 1 470.21 415.49L465.73 425.09A7.4 7.4 0 0 0 463.24 424.43Z" fill="#FFC000" stroke="#fff" stroke-width="0.5"/>
<path d="M470.21 415.49A18.0 18.0 0 1 1 445.48 437.36L455.56 434.09A7.4 7.4 0 1 0 465.73 425.09Z" fill="#70AD47" stroke="#fff" stroke-width="0.5"/>
<path d="M445.48 437.36A18.0 18.0 0 0 1 455.57 415.23L459.71 424.99A7.4 7.4 0 0 0 455.56 434.09Z" fill="#9E480E" stroke="#fff" stroke-width="0.5"/>
<path d="M455.57 415.23A18.0 18.0 0 0 1 461.03 413.87L461.96 424.43A7.4 7.4 0 0 0 459.71 424.99Z" fill="#997300" stroke="#fff" stroke-width="0.5"/>
<path d="M461.03 413.87A18.0 18.0 0 0 1 462.60 413.80L462.60 424.40A7.4 7.4 0 0 0 461.96 424.43Z" fill="#43682B" stroke="#fff" stroke-width="0.5"/>
<text x="462.60" y="433.70" font-size="7.6" text-anchor="middle" fill="#222">103</text>
<text x="462.60" y="412.10" font-size="9.4" text-anchor="middle" fill="#111">YAP</text>
<path d="M501.90 413.80A18.0 18.0 0 0 1 505.03 414.07L503.18 424.51A7.4 7.4 0 0 0 501.90 424.40Z" fill="#ED7D31" stroke="#fff" stroke-width="0.5"/>
<path d="M505.03 414.07A18.0 18.0 0 0 1 516.64 421.48L507.96 427.56A7.4 7.4 0 0 0 503.18 424.51Z" fill="#FFC000" stroke="#fff" stroke-width="0.5"/>
<path d="M516.64 421.48A18.0 18.0 0 1 1 485.46 424.48L495.14 428.79A7.4 7.4 0 1 0 507.96 427.56Z" fill="#70AD47" stroke="#fff" stroke-width="0.5"/>
<path d="M485.46 424.48A18.0 18.0 0 0 1 494.01 415.62L498.66 425.15A7.4 7.4 0 0 0 495.14 428.79Z" fill="#9E480E" stroke="#fff" stroke-width="0.5"/>
<path d="M494.01 415.62A18.0 18.0 0 0 1 500.64 413.84L501.38 424.42A7.4 7.4 0 0 0 498.66 425.15Z" fill="#997300" stroke="#fff" stroke-width="0.5"/>
<path d="M500.64 413.84A18.0 18.0 0 0 1 501.90 413.80L501.90 424.40A7.4 7.4 0 0 0 501.38 424.42Z" fill="#43682B" stroke="#fff" stroke-width="0.5"/>
<text x="501.90" y="433.70" font-size="7.6" text-anchor="middle" fill="#222">83</text>
<text x="501.90" y="412.10" font-size="9.4" text-anchor="middle" fill="#111">TAZ</text>
<rect x="439.70" y="466.10" width="161.20" height="49.50" rx="7" ry="7" fill="none" stroke="#8a8a8a" stroke-width="0.8"/>
<path d="M462.60 478.30A18.0 18.0 0 0 1 467.86 479.09L464.76 489.22A7.4 7.4 0 0 0 462.60 488.90Z" fill="#ED7D31" stroke="#fff" stroke-width="0.5"/>
<path d="M467.86 479.09A18.0 18.0 0 0 1 476.39 484.73L468.27 491.54A7.4 7.4 0 0 0 464.76 489.22Z" fill="#FFC000" stroke="#fff" stroke-width="0.5"/>
<path d="M476.39 484.73A18.0 18.0 0 1 1 445.30 491.34L455.49 494.26A7.4 7.4 0 1 0 468.27 491.54Z" fill="#70AD47" stroke="#fff" stroke-width="0.5"/>
<path d="M445.30 491.34A18.0 18.0 0 0 1 453.87 480.56L459.01 489.83A7.4 7.4 0 0 0 455.49 494.26Z" fill="#9E480E" stroke="#fff" stroke-width="0.5"/>
<path d="M453.87 480.56A18.0 18.0 0 0 1 461.66 478.32L462.21 488.91A7.4 7.4 0 0 0 459.01 489.83Z" fill="#997300" stroke="#fff" stroke-width="0.5"/>
<path d="M461.66 478.32A18.0 18.0 0 0 1 462.60 478.30L462.60 488.90A7.4 7.4 0 0 0 462.21 488.91Z" fill="#43682B" stroke="#fff" stroke-width="0.5"/>
<text x="462.60" y="498.20" font-size="7.6" text-anchor="middle" fill="#222">80</text>
<text x="462.60" y="475.50" font-size="9.4" text-anchor="middle" fill="#111">TEAD1</text>
<path d="M500.50 478.30A18.0 18.0 0 0 1 501.76 478.34L501.02 488.92A7.4 7.4 0 0 0 500.50 488.90Z" fill="#ED7D31" stroke="#fff" stroke-width="0.5"/>
<path d="M501.76 478.34A18.0 18.0 0 0 1 503.63 478.57L501.78 489.01A7.4 7.4 0 0 0 501.02 488.92Z" fill="#FFC000" stroke="#fff" stroke-width="0.5"/>
<path d="M503.63 478.57A18.0 18.0 0 1 1 489.42 510.48L495.94 502.13A7.4 7.4 0 1 0 501.78 489.01Z" fill="#70AD47" stroke="#fff" stroke-width="0.5"/>
<path d="M489.42 510.48A18.0 18.0 0 0 1 488.69 509.88L495.65 501.88A7.4 7.4 0 0 0 495.94 502.13Z" fill="#9E480E" stroke="#fff" stroke-width="0.5"/>
<path d="M488.69 509.88A18.0 18.0 0 0 1 499.56 478.32L500.11 488.91A7.4 7.4 0 0 0 495.65 501.88Z" fill="#997300" stroke="#fff" stroke-width="0.5"/>
<path d="M499.56 478.32A18.0 18.0 0 0 1 500.50 478.30L500.50 488.90A7.4 7.4 0 0 0 500.11 488.91Z" fill="#43682B" stroke="#fff" stroke-width="0.5"/>
<text x="500.50" y="498.20" font-size="7.6" text-anchor="middle" fill="#222">148</text>
<text x="500.50" y="475.50" font-size="9.4" text-anchor="middle" fill="#111">TEAD2</text>
<path d="M538.60 478.30A18.0 18.0 0 0 1 552.39 484.73L544.27 491.54A7.4 7.4 0 0 0 538.60 488.90Z" fill="#ED7D31" stroke="#fff" stroke-width="0.5"/>
<path d="M552.39 484.73A18.0 18.0 0 0 1 556.53 494.73L545.97 495.66A7.4 7.4 0 0 0 544.27 491.54Z" fill="#FFC000" stroke="#fff" stroke-width="0.5"/>
<path d="M556.53 494.73A18.0 18.0 0 1 1 531.57 479.73L535.71 489.49A7.4 7.4 0 1 0 545.97 495.66Z" fill="#70AD47" stroke="#fff" stroke-width="0.5"/>
<path d="M531.57 479.73A18.0 18.0 0 0 1 534.25 478.83L536.81 489.12A7.4 7.4 0 0 0 535.71 489.49Z" fill="#9E480E" stroke="#fff" stroke-width="0.5"/>
<path d="M534.25 478.83A18.0 18.0 0 0 1 537.97 478.31L538.34 488.90A7.4 7.4 0 0 0 536.81 489.12Z" fill="#997300" stroke="#fff" stroke-width="0.5"/>
<path d="M537.97 478.31A18.0 18.0 0 0 1 538.60 478.30L538.60 488.90A7.4 7.4 0 0 0 538.34 488.90Z" fill="#43682B" stroke="#fff" stroke-width="0.5"/>
<text x="538.60" y="498.20" font-size="7.6" text-anchor="middle" fill="#222">72</text>
<text x="538.60" y="477.00" font-size="9.4" text-anchor="middle" fill="#111">TEAD3</text>
<path d="M576.80 478.30A18.0 18.0 0 0 1 582.36 479.18L579.09 489.26A7.4 7.4 0 0 0 576.80 488.90Z" fill="#ED7D31" stroke="#fff" stroke-width="0.5"/>
<path d="M582.36 479.18A18.0 18.0 0 0 1 586.87 481.38L580.94 490.17A7.4 7.4 0 0 0 579.09 489.26Z" fill="#FFC000" stroke="#fff" stroke-width="0.5"/>
<path d="M586.87 481.38A18.0 18.0 0 1 1 566.22 481.74L572.45 490.31A7.4 7.4 0 1 0 580.94 490.17Z" fill="#70AD47" stroke="#fff" stroke-width="0.5"/>
<path d="M566.22 481.74A18.0 18.0 0 0 1 573.06 478.69L575.26 489.06A7.4 7.4 0 0 0 572.45 490.31Z" fill="#9E480E" stroke="#fff" stroke-width="0.5"/>
<path d="M573.06 478.69A18.0 18.0 0 0 1 575.54 478.34L576.28 488.92A7.4 7.4 0 0 0 575.26 489.06Z" fill="#997300" stroke="#fff" stroke-width="0.5"/>
<path d="M575.54 478.34A18.0 18.0 0 0 1 576.80 478.30L576.80 488.90A7.4 7.4 0 0 0 576.28 488.92Z" fill="#43682B" stroke="#fff" stroke-width="0.5"/>
<text x="576.80" y="498.20" font-size="7.6" text-anchor="middle" fill="#222">115</text>
<text x="575.40" y="475.50" font-size="9.4" text-anchor="middle" fill="#111">TEAD4</text>
<line x1="482.60" y1="227.00" x2="482.60" y2="301.30" stroke="#111" stroke-width="1.15"/>
<path d="M482.60 307.00L480.40 300.80L484.80 300.80Z" fill="#111"/>
<line x1="439.80" y1="282.70" x2="449.44" y2="301.91" stroke="#111" stroke-width="1.15"/>
<path d="M452.00 307.00L447.25 302.45L451.18 300.47Z" fill="#111"/>
<line x1="528.00" y1="282.70" x2="518.44" y2="301.90" stroke="#111" stroke-width="1.15"/>
<path d="M515.90 307.00L516.69 300.47L520.63 302.43Z" fill="#111"/>
<line x1="551.30" y1="282.70" x2="560.94" y2="301.91" stroke="#111" stroke-width="1.15"/>
<path d="M563.50 307.00L558.75 302.45L562.68 300.47Z" fill="#111"/>
<circle cx="471.40" cy="262.40" r="5.45" fill="#fff" stroke="#222" stroke-width="0.9"/>
<text x="472.00" y="265.60" font-size="7.8" text-anchor="middle" fill="#111">P</text>
<circle cx="512.10" cy="290.70" r="5.45" fill="#fff" stroke="#222" stroke-width="0.9"/>
<text x="512.70" y="293.90" font-size="7.8" text-anchor="middle" fill="#111">P</text>
<circle cx="566.60" cy="290.70" r="5.45" fill="#fff" stroke="#222" stroke-width="0.9"/>
<text x="567.20" y="293.90" font-size="7.8" text-anchor="middle" fill="#111">P</text>
<line x1="482.40" y1="370.00" x2="482.40" y2="393.60" stroke="#111" stroke-width="1.15"/>
<line x1="475.00" y1="393.60" x2="489.00" y2="393.60" stroke="#111" stroke-width="1.2"/>
<circle cx="471.60" cy="380.10" r="5.45" fill="#fff" stroke="#222" stroke-width="0.9"/>
<text x="472.20" y="383.30" font-size="7.8" text-anchor="middle" fill="#111">P</text>
<path d="M531.5 426.8H557.9V454.0" fill="none" stroke="#111" stroke-width="1.1"/>
<path d="M557.9 459.3L555.7 453.3L560.1 453.3Z" fill="#111"/>
<text x="565.40" y="443.70" font-size="10.2" fill="#111">Nuclear translocation</text>
<line x1="519.90" y1="520.50" x2="519.90" y2="532.50" stroke="#111" stroke-width="1.15"/>
<path d="M519.90 538.20L517.70 532.00L522.10 532.00Z" fill="#111"/>
<text x="523.80" y="550.00" font-size="10.2" text-anchor="middle" fill="#111">Cancer development</text>
<rect x="561.4" y="377.2" width="102.0" height="39.8" fill="#fff" stroke="#777" stroke-width="0.8"/>
<rect x="566.90" y="383.60" width="5.20" height="5.20" fill="#ED7D31"/>
<text x="574.30" y="388.70" font-size="8.9" fill="#111">Splicing</text>
<rect x="566.90" y="395.70" width="5.20" height="5.20" fill="#9E480E"/>
<text x="574.30" y="400.80" font-size="8.9" fill="#111">Fusion</text>
<rect x="566.90" y="408.00" width="5.20" height="5.20" fill="#997300"/>
<text x="574.30" y="413.10" font-size="8.9" fill="#111">Frame</text>
<rect x="609.70" y="383.60" width="5.20" height="5.20" fill="#FFC000"/>
<text x="617.10" y="388.70" font-size="8.9" fill="#111">Nonsense</text>
<rect x="609.70" y="395.70" width="5.20" height="5.20" fill="#80D45A"/>
<text x="617.10" y="400.80" font-size="8.9" fill="#111">Missense</text>
<rect x="609.70" y="408.00" width="5.20" height="5.20" fill="#43682B"/>
<text x="617.10" y="413.10" font-size="8.9" fill="#111">Others</text>
</svg>
</body></html>
